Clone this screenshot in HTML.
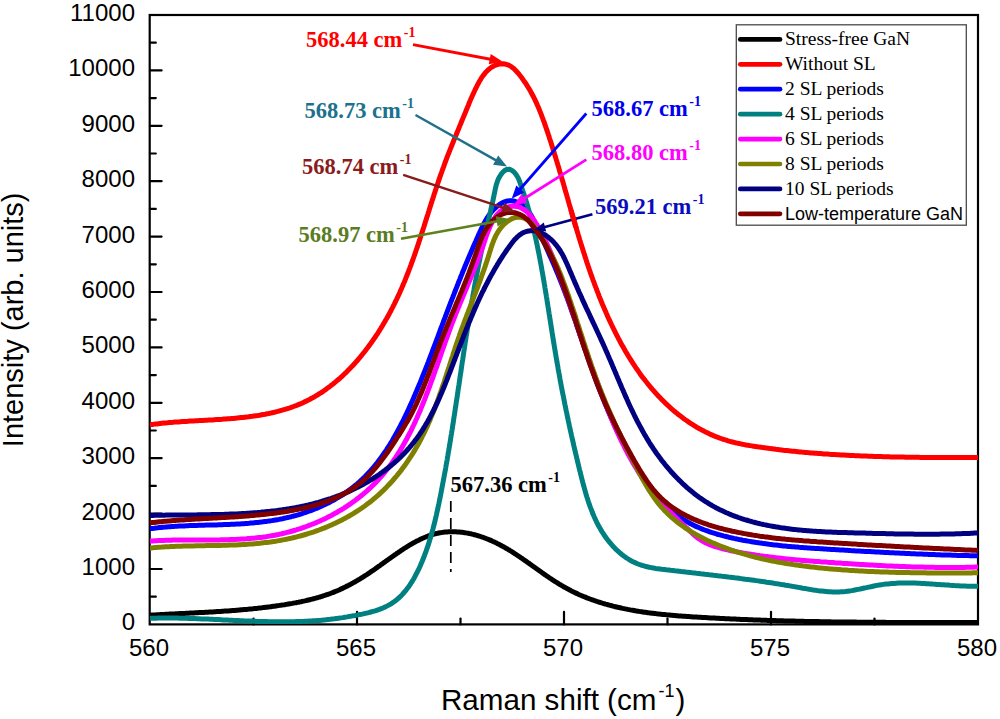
<!DOCTYPE html>
<html><head><meta charset="utf-8"><style>
html,body{margin:0;padding:0;background:#fff;}
svg{display:block;}
.tk{font-family:"Liberation Sans",sans-serif;font-size:24px;fill:#000;}
.ttl{font-family:"Liberation Sans",sans-serif;font-size:29px;fill:#000;}
.lab{font-family:"Liberation Serif",serif;font-weight:bold;font-size:22.5px;}
.sup{font-size:14px;}
.leg{font-family:"Liberation Serif",serif;font-size:19.5px;fill:#000;}
.legs{font-family:"Liberation Sans",sans-serif;font-size:18px;fill:#000;}
</style></head><body>
<svg width="1000" height="719" viewBox="0 0 1000 719">
<rect width="1000" height="719" fill="#fff"/>
<rect x="149.7" y="15.0" width="828.3" height="609.4" fill="none" stroke="#000" stroke-width="2.2"/>
<line x1="150.0" y1="596.70" x2="155.8" y2="596.70" stroke="#000" stroke-width="2.2" stroke-linecap="round"/>
<line x1="150.0" y1="569.00" x2="161.6" y2="569.00" stroke="#000" stroke-width="2.2" stroke-linecap="round"/>
<line x1="150.0" y1="541.30" x2="155.8" y2="541.30" stroke="#000" stroke-width="2.2" stroke-linecap="round"/>
<line x1="150.0" y1="513.60" x2="161.6" y2="513.60" stroke="#000" stroke-width="2.2" stroke-linecap="round"/>
<line x1="150.0" y1="485.90" x2="155.8" y2="485.90" stroke="#000" stroke-width="2.2" stroke-linecap="round"/>
<line x1="150.0" y1="458.20" x2="161.6" y2="458.20" stroke="#000" stroke-width="2.2" stroke-linecap="round"/>
<line x1="150.0" y1="430.50" x2="155.8" y2="430.50" stroke="#000" stroke-width="2.2" stroke-linecap="round"/>
<line x1="150.0" y1="402.80" x2="161.6" y2="402.80" stroke="#000" stroke-width="2.2" stroke-linecap="round"/>
<line x1="150.0" y1="375.10" x2="155.8" y2="375.10" stroke="#000" stroke-width="2.2" stroke-linecap="round"/>
<line x1="150.0" y1="347.40" x2="161.6" y2="347.40" stroke="#000" stroke-width="2.2" stroke-linecap="round"/>
<line x1="150.0" y1="319.70" x2="155.8" y2="319.70" stroke="#000" stroke-width="2.2" stroke-linecap="round"/>
<line x1="150.0" y1="292.00" x2="161.6" y2="292.00" stroke="#000" stroke-width="2.2" stroke-linecap="round"/>
<line x1="150.0" y1="264.30" x2="155.8" y2="264.30" stroke="#000" stroke-width="2.2" stroke-linecap="round"/>
<line x1="150.0" y1="236.60" x2="161.6" y2="236.60" stroke="#000" stroke-width="2.2" stroke-linecap="round"/>
<line x1="150.0" y1="208.90" x2="155.8" y2="208.90" stroke="#000" stroke-width="2.2" stroke-linecap="round"/>
<line x1="150.0" y1="181.20" x2="161.6" y2="181.20" stroke="#000" stroke-width="2.2" stroke-linecap="round"/>
<line x1="150.0" y1="153.50" x2="155.8" y2="153.50" stroke="#000" stroke-width="2.2" stroke-linecap="round"/>
<line x1="150.0" y1="125.80" x2="161.6" y2="125.80" stroke="#000" stroke-width="2.2" stroke-linecap="round"/>
<line x1="150.0" y1="98.10" x2="155.8" y2="98.10" stroke="#000" stroke-width="2.2" stroke-linecap="round"/>
<line x1="150.0" y1="70.40" x2="161.6" y2="70.40" stroke="#000" stroke-width="2.2" stroke-linecap="round"/>
<line x1="150.0" y1="42.70" x2="155.8" y2="42.70" stroke="#000" stroke-width="2.2" stroke-linecap="round"/>
<line x1="253.50" y1="624.4" x2="253.50" y2="618.6" stroke="#000" stroke-width="2.2" stroke-linecap="round"/>
<line x1="357.00" y1="624.4" x2="357.00" y2="611.8" stroke="#000" stroke-width="2.2" stroke-linecap="round"/>
<line x1="460.50" y1="624.4" x2="460.50" y2="618.6" stroke="#000" stroke-width="2.2" stroke-linecap="round"/>
<line x1="564.00" y1="624.4" x2="564.00" y2="611.8" stroke="#000" stroke-width="2.2" stroke-linecap="round"/>
<line x1="667.50" y1="624.4" x2="667.50" y2="618.6" stroke="#000" stroke-width="2.2" stroke-linecap="round"/>
<line x1="771.00" y1="624.4" x2="771.00" y2="611.8" stroke="#000" stroke-width="2.2" stroke-linecap="round"/>
<line x1="874.50" y1="624.4" x2="874.50" y2="618.6" stroke="#000" stroke-width="2.2" stroke-linecap="round"/>
<defs><clipPath id="pc"><rect x="150" y="15" width="828" height="609"/></clipPath></defs><g clip-path="url(#pc)"><path d="M135.1 616.2L136.3 616.1L137.6 616.0L138.9 615.9L140.1 615.8L141.4 615.7L142.7 615.7L144.0 615.6L145.2 615.5L146.5 615.4L147.8 615.3L149.0 615.3L150.3 615.2L151.6 615.1L152.9 615.0L154.1 615.0L155.4 614.9L156.7 614.8L157.9 614.7L159.2 614.7L160.5 614.6L161.8 614.5L163.1 614.5L164.3 614.4L165.6 614.3L166.9 614.3L168.2 614.2L169.4 614.1L170.7 614.1L172.0 614.0L173.3 613.9L174.6 613.9L175.8 613.8L177.1 613.7L178.4 613.7L179.7 613.6L181.0 613.6L182.3 613.5L183.5 613.4L184.8 613.4L186.1 613.3L187.4 613.2L188.7 613.2L189.9 613.1L191.2 613.0L192.5 613.0L193.8 612.9L195.1 612.8L196.4 612.8L197.7 612.7L198.9 612.6L200.2 612.6L201.5 612.5L202.8 612.4L204.1 612.4L205.4 612.3L206.6 612.2L207.9 612.2L209.2 612.1L210.5 612.0L211.8 611.9L213.1 611.9L214.4 611.8L215.6 611.7L216.9 611.6L218.2 611.5L219.5 611.5L220.8 611.4L222.1 611.3L223.4 611.2L224.6 611.1L225.9 611.0L227.2 610.9L228.5 610.9L229.8 610.8L231.1 610.7L232.3 610.6L233.6 610.5L234.9 610.4L236.2 610.3L237.5 610.2L238.8 610.1L240.0 610.0L241.3 609.8L242.6 609.7L243.9 609.6L245.2 609.5L246.4 609.4L247.7 609.3L249.0 609.1L250.3 609.0L251.6 608.9L252.8 608.8L254.1 608.6L255.4 608.5L256.7 608.4L258.0 608.2L259.2 608.1L260.5 607.9L261.8 607.8L263.1 607.6L264.3 607.5L265.6 607.3L266.9 607.2L268.2 607.0L269.4 606.9L270.7 606.7L272.0 606.5L273.3 606.3L274.5 606.2L275.8 606.0L277.1 605.8L278.4 605.6L279.6 605.4L280.9 605.2L282.2 605.1L283.4 604.9L284.7 604.7L286.0 604.4L287.2 604.2L288.5 604.0L289.8 603.8L291.0 603.6L292.3 603.4L293.5 603.1L294.8 602.9L296.1 602.7L297.3 602.4L298.6 602.2L299.8 601.9L301.1 601.7L302.3 601.4L303.6 601.1L304.8 600.9L306.1 600.6L307.3 600.3L308.5 600.0L309.8 599.7L311.0 599.4L312.2 599.1L313.5 598.8L314.7 598.4L315.9 598.1L317.1 597.8L318.4 597.4L319.6 597.0L320.8 596.7L322.0 596.3L323.2 595.9L324.4 595.5L325.6 595.1L326.8 594.7L328.0 594.3L329.2 593.9L330.3 593.5L331.5 593.0L332.7 592.6L333.8 592.1L335.0 591.6L336.2 591.2L337.3 590.7L338.5 590.2L339.6 589.7L340.8 589.1L341.9 588.6L343.0 588.1L344.2 587.5L345.3 587.0L346.4 586.4L347.5 585.9L348.7 585.3L349.8 584.7L350.9 584.1L352.0 583.5L353.1 582.9L354.2 582.3L355.3 581.7L356.4 581.0L357.5 580.4L358.6 579.7L359.7 579.1L360.8 578.4L361.9 577.8L362.9 577.1L364.0 576.4L365.1 575.7L366.2 575.0L367.3 574.3L368.3 573.6L369.4 572.9L370.5 572.1L371.5 571.4L372.6 570.7L373.7 569.9L374.7 569.2L375.8 568.4L376.9 567.7L377.9 566.9L379.0 566.2L380.1 565.4L381.1 564.6L382.2 563.9L383.3 563.1L384.3 562.3L385.4 561.6L386.5 560.8L387.5 560.0L388.6 559.3L389.7 558.5L390.8 557.7L391.8 557.0L392.9 556.2L394.0 555.4L395.1 554.7L396.2 553.9L397.3 553.2L398.4 552.4L399.5 551.7L400.6 550.9L401.7 550.2L402.8 549.4L403.9 548.7L405.0 548.0L406.1 547.3L407.2 546.6L408.4 545.9L409.5 545.2L410.6 544.5L411.8 543.9L412.9 543.2L414.1 542.6L415.2 542.0L416.3 541.3L417.5 540.7L418.7 540.2L419.8 539.6L421.0 539.0L422.1 538.5L423.3 538.0L424.5 537.5L425.7 537.0L426.8 536.5L428.0 536.1L429.2 535.6L430.4 535.2L431.6 534.8L432.8 534.5L434.0 534.1L435.2 533.8L436.4 533.5L437.6 533.3L438.8 533.0L440.0 532.8L441.2 532.6L442.5 532.4L443.7 532.2L444.9 532.1L446.1 532.0L447.3 531.9L448.6 531.8L449.8 531.8L451.0 531.7L452.3 531.7L453.5 531.7L454.7 531.8L456.0 531.8L457.2 531.9L458.4 532.0L459.7 532.1L460.9 532.2L462.1 532.3L463.4 532.5L464.6 532.7L465.8 532.9L467.1 533.1L468.3 533.3L469.5 533.6L470.8 533.8L472.0 534.1L473.2 534.4L474.5 534.7L475.7 535.0L476.9 535.4L478.1 535.8L479.3 536.1L480.5 536.5L481.7 536.9L483.0 537.3L484.2 537.8L485.4 538.2L486.6 538.7L487.8 539.2L488.9 539.6L490.1 540.1L491.3 540.6L492.5 541.2L493.7 541.7L494.8 542.3L496.0 542.8L497.1 543.4L498.3 544.0L499.5 544.6L500.6 545.2L501.7 545.8L502.9 546.4L504.0 547.0L505.1 547.7L506.2 548.3L507.4 549.0L508.5 549.7L509.6 550.3L510.7 551.0L511.8 551.7L512.9 552.4L514.0 553.1L515.1 553.8L516.2 554.5L517.3 555.3L518.4 556.0L519.4 556.7L520.5 557.4L521.6 558.2L522.7 558.9L523.8 559.7L524.8 560.4L525.9 561.2L527.0 561.9L528.1 562.7L529.1 563.4L530.2 564.2L531.3 565.0L532.3 565.7L533.4 566.5L534.5 567.3L535.5 568.0L536.6 568.8L537.6 569.5L538.7 570.3L539.8 571.1L540.8 571.8L541.9 572.6L543.0 573.3L544.0 574.1L545.1 574.8L546.2 575.6L547.3 576.3L548.3 577.0L549.4 577.8L550.5 578.5L551.6 579.2L552.6 579.9L553.7 580.6L554.8 581.3L555.9 582.0L557.0 582.7L558.1 583.4L559.2 584.1L560.3 584.7L561.4 585.4L562.5 586.0L563.6 586.7L564.7 587.3L565.8 587.9L566.9 588.5L568.0 589.1L569.2 589.7L570.3 590.3L571.4 590.9L572.6 591.5L573.7 592.0L574.8 592.6L576.0 593.1L577.1 593.6L578.3 594.2L579.4 594.7L580.6 595.2L581.8 595.7L582.9 596.2L584.1 596.7L585.3 597.1L586.4 597.6L587.6 598.1L588.8 598.5L590.0 599.0L591.1 599.4L592.3 599.8L593.5 600.2L594.7 600.7L595.9 601.1L597.1 601.5L598.3 601.9L599.5 602.3L600.7 602.6L601.9 603.0L603.1 603.4L604.3 603.7L605.5 604.1L606.8 604.4L608.0 604.8L609.2 605.1L610.4 605.4L611.7 605.7L612.9 606.1L614.1 606.4L615.3 606.7L616.6 607.0L617.8 607.3L619.0 607.5L620.3 607.8L621.5 608.1L622.8 608.4L624.0 608.6L625.3 608.9L626.5 609.1L627.8 609.4L629.0 609.6L630.3 609.9L631.5 610.1L632.8 610.3L634.0 610.5L635.3 610.8L636.6 611.0L637.8 611.2L639.1 611.4L640.4 611.6L641.6 611.8L642.9 612.0L644.2 612.2L645.4 612.3L646.7 612.5L648.0 612.7L649.3 612.9L650.5 613.0L651.8 613.2L653.1 613.3L654.4 613.5L655.6 613.6L656.9 613.8L658.2 613.9L659.5 614.1L660.8 614.2L662.1 614.4L663.3 614.5L664.6 614.6L665.9 614.7L667.2 614.9L668.5 615.0L669.8 615.1L671.1 615.2L672.3 615.3L673.6 615.4L674.9 615.5L676.2 615.7L677.5 615.8L678.8 615.9L680.1 616.0L681.4 616.1L682.7 616.2L684.0 616.2L685.3 616.3L686.5 616.4L687.8 616.5L689.1 616.6L690.4 616.7L691.7 616.8L693.0 616.9L694.3 616.9L695.6 617.0L696.9 617.1L698.2 617.2L699.5 617.3L700.8 617.3L702.1 617.4L703.3 617.5L704.6 617.6L705.9 617.6L707.2 617.7L708.5 617.8L709.8 617.9L711.1 617.9L712.4 618.0L713.7 618.1L714.9 618.1L716.2 618.2L717.5 618.3L718.8 618.3L720.1 618.4L721.4 618.5L722.7 618.5L724.0 618.6L725.2 618.7L726.5 618.7L727.8 618.8L729.1 618.8L730.4 618.9L731.7 619.0L733.0 619.0L734.2 619.1L735.5 619.1L736.8 619.2L738.1 619.3L739.4 619.3L740.7 619.4L742.0 619.4L743.2 619.5L744.5 619.5L745.8 619.6L747.1 619.6L748.4 619.7L749.6 619.7L750.9 619.8L752.2 619.8L753.5 619.9L754.8 619.9L756.1 620.0L757.3 620.0L758.6 620.1L759.9 620.1L761.2 620.2L762.5 620.2L763.7 620.2L765.0 620.3L766.3 620.3L767.6 620.4L768.9 620.4L770.2 620.5L771.4 620.5L772.7 620.5L774.0 620.6L775.3 620.6L776.6 620.7L777.8 620.7L779.1 620.7L780.4 620.8L781.7 620.8L782.9 620.8L784.2 620.9L785.5 620.9L786.8 620.9L788.1 621.0L789.3 621.0L790.6 621.0L791.9 621.1L793.2 621.1L794.5 621.1L795.7 621.2L797.0 621.2L798.3 621.2L799.6 621.3L800.8 621.3L802.1 621.3L803.4 621.3L804.7 621.4L806.0 621.4L807.2 621.4L808.5 621.5L809.8 621.5L811.1 621.5L812.3 621.5L813.6 621.6L814.9 621.6L816.2 621.6L817.4 621.6L818.7 621.6L820.0 621.7L821.3 621.7L822.6 621.7L823.8 621.7L825.1 621.8L826.4 621.8L827.7 621.8L828.9 621.8L830.2 621.8L831.5 621.9L832.8 621.9L834.0 621.9L835.3 621.9L836.6 621.9L837.9 621.9L839.2 622.0L840.4 622.0L841.7 622.0L843.0 622.0L844.3 622.0L845.5 622.0L846.8 622.0L848.1 622.1L849.4 622.1L850.6 622.1L851.9 622.1L853.2 622.1L854.5 622.1L855.8 622.1L857.0 622.2L858.3 622.2L859.6 622.2L860.9 622.2L862.1 622.2L863.4 622.2L864.7 622.2L866.0 622.2L867.2 622.2L868.5 622.2L869.8 622.3L871.1 622.3L872.4 622.3L873.6 622.3L874.9 622.3L876.2 622.3L877.5 622.3L878.7 622.3L880.0 622.3L881.3 622.3L882.6 622.3L883.9 622.3L885.1 622.3L886.4 622.4L887.7 622.4L889.0 622.4L890.3 622.4L891.5 622.4L892.8 622.4L894.1 622.4L895.4 622.4L896.6 622.4L897.9 622.4L899.2 622.4L900.5 622.4L901.8 622.4L903.0 622.4L904.3 622.4L905.6 622.4L906.9 622.4L908.2 622.4L909.4 622.4L910.7 622.4L912.0 622.4L913.3 622.4L914.6 622.4L915.9 622.4L917.1 622.4L918.4 622.5L919.7 622.5L921.0 622.5L922.3 622.5L923.5 622.5L924.8 622.5L926.1 622.5L927.4 622.5L928.7 622.5L930.0 622.5L931.2 622.5L932.5 622.5L933.8 622.5L935.1 622.5L936.4 622.5L937.7 622.5L938.9 622.5L940.2 622.5L941.5 622.5L942.8 622.5L944.1 622.5L945.4 622.5L946.7 622.5L947.9 622.5L949.2 622.5L950.5 622.5L951.8 622.5L953.1 622.5L954.4 622.5L955.7 622.5L957.0 622.5L958.2 622.5L959.5 622.5L960.8 622.5L962.1 622.5L963.4 622.5L964.7 622.5L966.0 622.5L967.3 622.5L968.6 622.5L969.8 622.5L971.1 622.5L972.4 622.5L973.7 622.5L975.0 622.5L976.3 622.5L977.6 622.5L978.9 622.5L980.2 622.5L981.5 622.5L982.8 622.5L984.1 622.5L985.3 622.5L986.6 622.5L987.9 622.5L989.2 622.5L990.5 622.5L991.8 622.5L993.1 622.5" stroke="#000000" stroke-width="5.0" fill="none" stroke-linejoin="round" stroke-linecap="butt"/>
<path d="M135.6 427.3L137.3 427.0L139.0 426.6L140.7 426.3L142.5 426.0L144.2 425.7L146.0 425.4L147.7 425.1L149.5 424.9L151.3 424.6L153.0 424.4L154.8 424.1L156.6 423.9L158.4 423.7L160.2 423.5L162.0 423.3L163.9 423.1L165.7 422.9L167.5 422.8L169.4 422.6L171.2 422.4L173.1 422.3L174.9 422.1L176.8 422.0L178.6 421.9L180.5 421.7L182.4 421.6L184.2 421.5L186.1 421.4L188.0 421.3L189.9 421.1L191.8 421.0L193.6 420.9L195.5 420.8L197.4 420.7L199.3 420.6L201.2 420.5L203.1 420.4L205.0 420.3L206.9 420.2L208.8 420.1L210.7 420.0L212.6 419.9L214.5 419.7L216.4 419.6L218.3 419.5L220.2 419.4L222.1 419.3L224.0 419.1L225.9 419.0L227.8 418.8L229.7 418.7L231.6 418.5L233.5 418.4L235.4 418.2L237.3 418.0L239.2 417.8L241.1 417.6L242.9 417.4L244.8 417.2L246.7 417.0L248.6 416.8L250.4 416.5L252.3 416.3L254.1 416.0L256.0 415.7L257.8 415.5L259.7 415.2L261.5 414.8L263.4 414.5L265.2 414.2L267.0 413.8L268.8 413.5L270.6 413.1L272.4 412.7L274.2 412.3L276.0 411.8L277.8 411.4L279.6 410.9L281.3 410.4L283.1 409.9L284.8 409.4L286.6 408.9L288.3 408.3L290.0 407.8L291.8 407.2L293.5 406.5L295.2 405.9L296.9 405.3L298.5 404.6L300.2 403.9L301.9 403.2L303.5 402.4L305.1 401.6L306.8 400.9L308.4 400.0L310.0 399.2L311.6 398.3L313.2 397.5L314.7 396.6L316.3 395.6L317.9 394.7L319.4 393.7L320.9 392.8L322.4 391.8L324.0 390.7L325.5 389.7L326.9 388.6L328.4 387.5L329.9 386.4L331.3 385.3L332.8 384.2L334.2 383.0L335.6 381.9L337.0 380.7L338.4 379.5L339.8 378.3L341.2 377.0L342.6 375.8L343.9 374.5L345.3 373.2L346.6 371.9L347.9 370.6L349.2 369.3L350.5 367.9L351.8 366.6L353.1 365.2L354.4 363.8L355.6 362.4L356.9 361.0L358.1 359.6L359.3 358.2L360.5 356.7L361.7 355.3L362.9 353.8L364.1 352.3L365.3 350.8L366.4 349.3L367.6 347.8L368.7 346.3L369.8 344.8L370.9 343.2L372.0 341.7L373.1 340.1L374.2 338.6L375.3 337.0L376.3 335.4L377.4 333.8L378.4 332.2L379.4 330.6L380.4 329.0L381.4 327.4L382.4 325.8L383.4 324.1L384.3 322.5L385.3 320.9L386.2 319.2L387.2 317.6L388.1 315.9L389.0 314.3L389.9 312.6L390.8 311.0L391.6 309.3L392.5 307.6L393.3 306.0L394.2 304.3L395.0 302.6L395.8 300.9L396.6 299.3L397.4 297.6L398.2 295.9L399.0 294.2L399.8 292.5L400.5 290.8L401.3 289.1L402.0 287.4L402.7 285.7L403.4 284.0L404.2 282.3L404.9 280.6L405.6 278.9L406.2 277.2L406.9 275.5L407.6 273.8L408.3 272.0L408.9 270.3L409.6 268.6L410.2 266.9L410.9 265.1L411.5 263.4L412.1 261.7L412.8 260.0L413.4 258.2L414.0 256.5L414.6 254.8L415.2 253.0L415.8 251.3L416.4 249.5L417.0 247.8L417.6 246.1L418.2 244.3L418.8 242.6L419.3 240.8L419.9 239.1L420.5 237.3L421.0 235.6L421.6 233.8L422.2 232.1L422.7 230.3L423.3 228.6L423.9 226.8L424.4 225.1L425.0 223.3L425.5 221.5L426.1 219.8L426.6 218.0L427.2 216.3L427.8 214.5L428.3 212.7L428.9 211.0L429.4 209.2L430.0 207.4L430.5 205.7L431.1 203.9L431.7 202.2L432.2 200.4L432.8 198.6L433.4 196.9L433.9 195.1L434.5 193.3L435.1 191.6L435.7 189.8L436.2 188.0L436.8 186.3L437.4 184.5L438.0 182.7L438.6 180.9L439.2 179.2L439.8 177.4L440.4 175.6L441.0 173.9L441.7 172.1L442.3 170.3L442.9 168.6L443.6 166.8L444.2 165.1L444.8 163.3L445.5 161.5L446.2 159.8L446.8 158.0L447.5 156.2L448.2 154.5L448.9 152.7L449.6 151.0L450.3 149.2L451.0 147.4L451.7 145.7L452.4 143.9L453.1 142.2L453.8 140.4L454.5 138.7L455.2 137.0L456.0 135.2L456.7 133.5L457.4 131.8L458.1 130.1L458.8 128.3L459.5 126.6L460.2 124.9L460.9 123.2L461.6 121.5L462.3 119.8L463.0 118.1L463.7 116.5L464.4 114.8L465.1 113.1L465.8 111.5L466.4 109.8L467.1 108.2L467.8 106.5L468.5 104.9L469.1 103.2L469.8 101.6L470.5 99.9L471.2 98.3L472.0 96.6L472.7 94.9L473.5 93.2L474.3 91.5L475.1 89.8L475.9 88.1L476.8 86.3L477.7 84.5L478.6 82.8L479.6 81.0L480.7 79.3L481.7 77.6L482.9 75.9L484.1 74.4L485.3 72.8L486.6 71.4L488.0 70.0L489.4 68.8L490.9 67.7L492.5 66.7L494.1 65.8L495.8 65.1L497.6 64.5L499.3 64.1L501.1 63.9L502.8 63.8L504.5 64.0L506.2 64.3L507.8 64.8L509.4 65.6L510.9 66.4L512.3 67.5L513.8 68.6L515.1 69.9L516.4 71.3L517.7 72.7L519.0 74.2L520.2 75.7L521.4 77.2L522.5 78.8L523.6 80.4L524.7 81.9L525.8 83.5L526.8 85.1L527.8 86.7L528.8 88.3L529.8 90.0L530.7 91.6L531.6 93.3L532.5 94.9L533.3 96.6L534.2 98.2L535.0 99.9L535.8 101.6L536.6 103.3L537.3 105.0L538.1 106.7L538.8 108.4L539.5 110.2L540.2 111.9L540.9 113.6L541.6 115.4L542.2 117.1L542.9 118.8L543.5 120.6L544.2 122.3L544.8 124.1L545.4 125.9L546.0 127.6L546.6 129.4L547.2 131.1L547.8 132.9L548.4 134.7L549.0 136.4L549.5 138.2L550.1 140.0L550.7 141.7L551.3 143.5L551.8 145.3L552.4 147.1L552.9 148.8L553.5 150.6L554.0 152.4L554.6 154.2L555.1 155.9L555.7 157.7L556.2 159.5L556.8 161.3L557.3 163.1L557.8 164.8L558.4 166.6L558.9 168.4L559.4 170.2L559.9 172.0L560.5 173.7L561.0 175.5L561.5 177.3L562.0 179.1L562.6 180.9L563.1 182.7L563.6 184.4L564.1 186.2L564.6 188.0L565.1 189.8L565.6 191.6L566.2 193.4L566.7 195.2L567.2 196.9L567.7 198.7L568.2 200.5L568.7 202.3L569.2 204.1L569.7 205.9L570.3 207.6L570.8 209.4L571.3 211.2L571.8 213.0L572.3 214.8L572.8 216.6L573.4 218.3L573.9 220.1L574.4 221.9L574.9 223.7L575.4 225.5L576.0 227.2L576.5 229.0L577.0 230.8L577.6 232.6L578.1 234.4L578.6 236.1L579.2 237.9L579.7 239.7L580.3 241.5L580.8 243.2L581.4 245.0L581.9 246.8L582.5 248.5L583.0 250.3L583.6 252.1L584.2 253.8L584.7 255.6L585.3 257.4L585.9 259.1L586.4 260.9L587.0 262.7L587.6 264.4L588.2 266.2L588.8 267.9L589.4 269.7L590.0 271.4L590.6 273.2L591.2 275.0L591.9 276.7L592.5 278.5L593.1 280.2L593.8 281.9L594.4 283.7L595.0 285.4L595.7 287.2L596.4 288.9L597.0 290.6L597.7 292.4L598.4 294.1L599.0 295.8L599.7 297.6L600.4 299.3L601.1 301.0L601.8 302.7L602.5 304.5L603.3 306.2L604.0 307.9L604.7 309.6L605.5 311.3L606.2 313.0L607.0 314.8L607.7 316.5L608.5 318.2L609.3 319.9L610.1 321.6L610.9 323.3L611.7 325.0L612.5 326.6L613.3 328.3L614.1 330.0L615.0 331.7L615.8 333.4L616.6 335.0L617.5 336.7L618.4 338.4L619.3 340.0L620.1 341.7L621.0 343.3L621.9 345.0L622.9 346.6L623.8 348.2L624.7 349.8L625.6 351.5L626.6 353.1L627.6 354.7L628.5 356.3L629.5 357.9L630.5 359.5L631.5 361.0L632.5 362.6L633.5 364.2L634.5 365.7L635.6 367.3L636.6 368.8L637.7 370.3L638.8 371.9L639.8 373.4L640.9 374.9L642.0 376.4L643.1 377.9L644.3 379.3L645.4 380.8L646.6 382.3L647.7 383.7L648.9 385.2L650.1 386.6L651.2 388.0L652.4 389.4L653.7 390.8L654.9 392.2L656.1 393.6L657.4 394.9L658.6 396.3L659.9 397.6L661.2 398.9L662.5 400.2L663.8 401.5L665.1 402.8L666.5 404.1L667.8 405.4L669.2 406.6L670.5 407.9L671.9 409.1L673.3 410.3L674.7 411.5L676.1 412.7L677.6 413.8L679.0 415.0L680.5 416.1L682.0 417.2L683.5 418.4L685.0 419.5L686.5 420.5L688.0 421.6L689.5 422.6L691.1 423.7L692.7 424.7L694.2 425.6L695.8 426.6L697.4 427.6L699.0 428.5L700.7 429.4L702.3 430.3L703.9 431.1L705.6 432.0L707.3 432.8L708.9 433.6L710.6 434.4L712.3 435.1L714.0 435.9L715.8 436.6L717.5 437.2L719.2 437.9L721.0 438.5L722.7 439.1L724.5 439.7L726.3 440.2L728.0 440.8L729.8 441.3L731.6 441.8L733.4 442.2L735.2 442.7L737.1 443.1L738.9 443.5L740.7 443.9L742.5 444.3L744.4 444.6L746.2 445.0L748.0 445.3L749.9 445.6L751.7 445.9L753.6 446.2L755.4 446.5L757.3 446.8L759.2 447.1L761.0 447.3L762.9 447.6L764.7 447.8L766.6 448.1L768.4 448.3L770.3 448.6L772.1 448.8L774.0 449.0L775.8 449.3L777.7 449.5L779.5 449.7L781.4 449.9L783.2 450.2L785.1 450.4L786.9 450.6L788.8 450.8L790.6 451.0L792.5 451.2L794.3 451.3L796.2 451.5L798.0 451.7L799.9 451.9L801.7 452.1L803.6 452.2L805.4 452.4L807.3 452.6L809.1 452.7L811.0 452.9L812.8 453.0L814.7 453.2L816.5 453.3L818.4 453.5L820.2 453.6L822.1 453.7L823.9 453.9L825.8 454.0L827.6 454.1L829.5 454.3L831.3 454.4L833.2 454.5L835.0 454.6L836.9 454.7L838.7 454.8L840.6 454.9L842.4 455.0L844.3 455.1L846.1 455.2L848.0 455.3L849.8 455.4L851.7 455.5L853.5 455.6L855.4 455.7L857.2 455.8L859.1 455.8L860.9 455.9L862.8 456.0L864.7 456.1L866.5 456.1L868.4 456.2L870.2 456.3L872.1 456.3L873.9 456.4L875.8 456.5L877.6 456.5L879.5 456.6L881.3 456.6L883.2 456.7L885.1 456.7L886.9 456.8L888.8 456.8L890.6 456.9L892.5 456.9L894.4 456.9L896.2 457.0L898.1 457.0L899.9 457.1L901.8 457.1L903.7 457.1L905.5 457.2L907.4 457.2L909.3 457.2L911.1 457.2L913.0 457.3L914.9 457.3L916.7 457.3L918.6 457.3L920.4 457.4L922.3 457.4L924.2 457.4L926.0 457.4L927.9 457.4L929.8 457.4L931.6 457.5L933.5 457.5L935.4 457.5L937.2 457.5L939.1 457.5L941.0 457.5L942.8 457.5L944.7 457.5L946.5 457.5L948.4 457.5L950.3 457.5L952.1 457.5L954.0 457.5L955.9 457.5L957.7 457.5L959.6 457.5L961.4 457.5L963.3 457.5L965.2 457.5L967.0 457.5L968.9 457.5L970.7 457.5L972.6 457.5L974.5 457.5L976.3 457.5L978.2 457.5L980.0 457.5L981.9 457.5L983.7 457.5L985.6 457.5L987.4 457.4L989.3 457.4L991.1 457.4L993.0 457.4" stroke="#ff0000" stroke-width="5.0" fill="none" stroke-linejoin="round" stroke-linecap="butt"/>
<path d="M135.2 531.2L136.9 530.9L138.6 530.5L140.3 530.2L142.1 529.9L143.8 529.6L145.5 529.3L147.3 529.1L149.0 528.8L150.8 528.6L152.5 528.4L154.3 528.2L156.0 527.9L157.8 527.8L159.6 527.6L161.3 527.4L163.1 527.2L164.8 527.1L166.6 526.9L168.4 526.8L170.2 526.7L171.9 526.5L173.7 526.4L175.5 526.3L177.3 526.2L179.1 526.1L180.8 526.0L182.6 525.9L184.4 525.9L186.2 525.8L188.0 525.7L189.8 525.6L191.6 525.6L193.4 525.5L195.1 525.5L196.9 525.4L198.7 525.3L200.5 525.3L202.3 525.2L204.1 525.2L205.9 525.1L207.7 525.1L209.5 525.1L211.3 525.0L213.1 525.0L214.9 524.9L216.7 524.9L218.5 524.8L220.3 524.7L222.1 524.7L223.9 524.6L225.7 524.6L227.5 524.5L229.3 524.4L231.1 524.3L232.9 524.3L234.7 524.2L236.4 524.1L238.2 524.0L240.0 523.9L241.8 523.8L243.6 523.7L245.4 523.5L247.2 523.4L249.0 523.3L250.7 523.1L252.5 523.0L254.3 522.8L256.1 522.6L257.9 522.5L259.6 522.3L261.4 522.1L263.2 521.8L265.0 521.6L266.7 521.4L268.5 521.1L270.2 520.9L272.0 520.6L273.8 520.3L275.5 520.0L277.3 519.7L279.0 519.4L280.8 519.0L282.5 518.7L284.3 518.3L286.0 517.9L287.7 517.5L289.5 517.1L291.2 516.7L292.9 516.2L294.6 515.8L296.4 515.3L298.1 514.8L299.8 514.3L301.5 513.8L303.2 513.2L304.8 512.7L306.5 512.1L308.2 511.5L309.9 510.9L311.5 510.3L313.2 509.7L314.8 509.0L316.5 508.4L318.1 507.7L319.7 507.0L321.3 506.3L322.9 505.5L324.5 504.8L326.1 504.0L327.7 503.3L329.2 502.5L330.8 501.6L332.4 500.8L333.9 500.0L335.4 499.1L336.9 498.2L338.4 497.3L339.9 496.4L341.4 495.5L342.9 494.6L344.3 493.6L345.8 492.6L347.2 491.6L348.6 490.6L350.0 489.6L351.4 488.5L352.8 487.4L354.2 486.3L355.5 485.2L356.9 484.1L358.2 483.0L359.5 481.8L360.8 480.6L362.1 479.4L363.3 478.2L364.6 477.0L365.8 475.8L367.0 474.5L368.2 473.2L369.4 471.9L370.6 470.6L371.8 469.3L372.9 468.0L374.1 466.6L375.2 465.2L376.3 463.8L377.4 462.5L378.5 461.0L379.6 459.6L380.6 458.2L381.7 456.7L382.7 455.3L383.7 453.8L384.8 452.3L385.8 450.8L386.8 449.3L387.7 447.8L388.7 446.3L389.7 444.8L390.6 443.3L391.6 441.7L392.5 440.2L393.4 438.6L394.3 437.0L395.2 435.4L396.1 433.9L397.0 432.3L397.8 430.7L398.7 429.1L399.6 427.5L400.4 425.8L401.2 424.2L402.1 422.6L402.9 421.0L403.7 419.4L404.5 417.7L405.3 416.1L406.1 414.4L406.9 412.8L407.6 411.2L408.4 409.5L409.2 407.9L409.9 406.2L410.7 404.6L411.4 402.9L412.2 401.3L412.9 399.6L413.6 398.0L414.3 396.3L415.0 394.7L415.7 393.0L416.4 391.4L417.1 389.7L417.8 388.1L418.5 386.5L419.2 384.8L419.9 383.2L420.6 381.5L421.2 379.9L421.9 378.3L422.5 376.6L423.2 375.0L423.9 373.3L424.5 371.7L425.2 370.1L425.8 368.4L426.4 366.8L427.1 365.1L427.7 363.5L428.4 361.9L429.0 360.2L429.6 358.6L430.2 356.9L430.9 355.3L431.5 353.7L432.1 352.0L432.7 350.4L433.3 348.7L434.0 347.1L434.6 345.4L435.2 343.8L435.8 342.2L436.4 340.5L437.0 338.9L437.7 337.2L438.3 335.6L438.9 333.9L439.5 332.3L440.1 330.6L440.7 329.0L441.3 327.3L442.0 325.7L442.6 324.0L443.2 322.4L443.8 320.7L444.4 319.1L445.1 317.4L445.7 315.7L446.3 314.1L446.9 312.4L447.6 310.8L448.2 309.1L448.8 307.4L449.5 305.8L450.1 304.1L450.7 302.4L451.4 300.8L452.0 299.1L452.7 297.4L453.3 295.8L454.0 294.1L454.6 292.4L455.3 290.8L455.9 289.1L456.6 287.4L457.2 285.8L457.9 284.1L458.5 282.4L459.2 280.8L459.9 279.1L460.5 277.5L461.2 275.8L461.9 274.1L462.5 272.5L463.2 270.8L463.9 269.2L464.6 267.5L465.2 265.8L465.9 264.2L466.6 262.5L467.3 260.9L468.0 259.2L468.7 257.6L469.4 255.9L470.1 254.3L470.8 252.7L471.5 251.0L472.2 249.4L472.9 247.7L473.6 246.1L474.3 244.5L475.0 242.9L475.8 241.2L476.5 239.6L477.2 238.0L477.9 236.4L478.6 234.7L479.4 233.1L480.1 231.5L480.9 229.9L481.6 228.3L482.4 226.7L483.1 225.1L483.9 223.6L484.8 222.0L485.6 220.5L486.5 219.0L487.5 217.5L488.4 216.0L489.4 214.6L490.5 213.2L491.6 211.8L492.8 210.4L494.1 209.1L495.4 207.9L496.8 206.6L498.2 205.5L499.8 204.4L501.3 203.4L502.9 202.6L504.5 201.9L506.2 201.3L507.9 200.9L509.6 200.7L511.3 200.7L513.0 200.9L514.7 201.3L516.4 201.9L518.1 202.6L519.7 203.5L521.2 204.4L522.7 205.5L524.0 206.6L525.3 207.8L526.6 209.1L527.7 210.5L528.8 211.9L529.8 213.4L530.8 214.9L531.7 216.4L532.6 218.0L533.4 219.6L534.2 221.2L535.0 222.9L535.8 224.5L536.5 226.2L537.3 227.9L538.1 229.5L538.8 231.2L539.6 232.8L540.3 234.4L541.1 236.1L541.8 237.7L542.5 239.4L543.3 241.0L544.0 242.6L544.8 244.2L545.5 245.9L546.2 247.5L547.0 249.1L547.7 250.7L548.4 252.3L549.1 253.9L549.8 255.6L550.6 257.2L551.3 258.8L552.0 260.4L552.7 262.0L553.4 263.6L554.1 265.2L554.8 266.9L555.5 268.5L556.1 270.1L556.8 271.7L557.5 273.4L558.2 275.0L558.8 276.6L559.5 278.3L560.2 279.9L560.8 281.5L561.5 283.2L562.1 284.8L562.8 286.5L563.4 288.1L564.0 289.8L564.7 291.5L565.3 293.1L565.9 294.8L566.5 296.5L567.2 298.1L567.8 299.8L568.4 301.5L569.0 303.2L569.6 304.8L570.2 306.5L570.8 308.2L571.4 309.9L572.0 311.6L572.6 313.3L573.2 315.0L573.8 316.6L574.4 318.3L575.0 320.0L575.6 321.7L576.2 323.4L576.7 325.1L577.3 326.8L577.9 328.5L578.5 330.2L579.1 331.9L579.7 333.6L580.2 335.3L580.8 336.9L581.4 338.6L582.0 340.3L582.6 342.0L583.1 343.7L583.7 345.4L584.3 347.1L584.9 348.8L585.5 350.5L586.1 352.1L586.6 353.8L587.2 355.5L587.8 357.2L588.4 358.9L589.0 360.6L589.6 362.2L590.2 363.9L590.8 365.6L591.4 367.3L592.0 368.9L592.6 370.6L593.2 372.3L593.8 373.9L594.4 375.6L595.0 377.3L595.6 378.9L596.2 380.6L596.9 382.3L597.5 383.9L598.1 385.6L598.7 387.2L599.4 388.9L600.0 390.5L600.6 392.2L601.3 393.8L601.9 395.5L602.6 397.1L603.2 398.8L603.9 400.4L604.6 402.1L605.2 403.7L605.9 405.3L606.6 407.0L607.3 408.6L607.9 410.2L608.6 411.9L609.3 413.5L610.0 415.1L610.7 416.8L611.5 418.4L612.2 420.0L612.9 421.6L613.6 423.2L614.4 424.8L615.1 426.5L615.8 428.1L616.6 429.7L617.4 431.3L618.1 432.9L618.9 434.5L619.7 436.1L620.5 437.7L621.3 439.3L622.1 440.9L622.9 442.5L623.7 444.1L624.5 445.7L625.3 447.2L626.2 448.8L627.0 450.4L627.9 452.0L628.7 453.6L629.6 455.1L630.5 456.7L631.4 458.3L632.2 459.8L633.1 461.4L634.1 463.0L635.0 464.5L635.9 466.1L636.8 467.6L637.8 469.2L638.7 470.7L639.7 472.2L640.7 473.8L641.7 475.3L642.7 476.8L643.7 478.3L644.7 479.8L645.7 481.3L646.8 482.8L647.8 484.2L648.9 485.7L650.0 487.1L651.0 488.6L652.1 490.0L653.3 491.4L654.4 492.8L655.5 494.2L656.7 495.5L657.8 496.9L659.0 498.2L660.2 499.5L661.4 500.8L662.6 502.1L663.9 503.4L665.1 504.6L666.4 505.9L667.6 507.1L668.9 508.3L670.2 509.5L671.6 510.6L672.9 511.7L674.2 512.8L675.6 513.9L677.0 515.0L678.4 516.0L679.8 517.1L681.3 518.1L682.7 519.0L684.2 520.0L685.7 520.9L687.2 521.8L688.7 522.6L690.2 523.5L691.8 524.3L693.3 525.1L694.9 525.9L696.5 526.6L698.1 527.3L699.8 528.0L701.4 528.7L703.0 529.4L704.7 530.0L706.4 530.6L708.0 531.2L709.7 531.8L711.4 532.4L713.1 532.9L714.8 533.4L716.6 534.0L718.3 534.5L720.0 534.9L721.7 535.4L723.5 535.9L725.2 536.3L727.0 536.7L728.7 537.2L730.5 537.6L732.2 538.0L734.0 538.4L735.7 538.7L737.5 539.1L739.2 539.5L741.0 539.8L742.7 540.2L744.5 540.5L746.2 540.8L748.0 541.1L749.8 541.4L751.5 541.7L753.3 542.0L755.0 542.3L756.8 542.6L758.6 542.8L760.3 543.1L762.1 543.3L763.8 543.6L765.6 543.8L767.4 544.0L769.1 544.3L770.9 544.5L772.7 544.7L774.4 544.9L776.2 545.1L778.0 545.3L779.7 545.5L781.5 545.7L783.3 545.9L785.0 546.0L786.8 546.2L788.6 546.4L790.3 546.5L792.1 546.7L793.9 546.8L795.6 547.0L797.4 547.1L799.2 547.3L801.0 547.4L802.7 547.5L804.5 547.7L806.3 547.8L808.0 547.9L809.8 548.0L811.6 548.2L813.4 548.3L815.1 548.4L816.9 548.5L818.7 548.6L820.5 548.7L822.2 548.8L824.0 549.0L825.8 549.1L827.6 549.2L829.3 549.3L831.1 549.4L832.9 549.5L834.7 549.6L836.4 549.7L838.2 549.8L840.0 549.9L841.8 550.0L843.5 550.1L845.3 550.2L847.1 550.3L848.9 550.4L850.7 550.6L852.4 550.7L854.2 550.8L856.0 550.9L857.8 551.0L859.5 551.1L861.3 551.2L863.1 551.3L864.9 551.4L866.7 551.5L868.4 551.6L870.2 551.6L872.0 551.7L873.8 551.8L875.5 551.9L877.3 552.0L879.1 552.1L880.9 552.2L882.7 552.3L884.4 552.4L886.2 552.5L888.0 552.6L889.8 552.7L891.6 552.8L893.3 552.8L895.1 552.9L896.9 553.0L898.7 553.1L900.5 553.2L902.2 553.3L904.0 553.3L905.8 553.4L907.6 553.5L909.4 553.6L911.1 553.7L912.9 553.7L914.7 553.8L916.5 553.9L918.3 554.0L920.0 554.0L921.8 554.1L923.6 554.2L925.4 554.3L927.2 554.3L928.9 554.4L930.7 554.5L932.5 554.5L934.3 554.6L936.1 554.7L937.8 554.7L939.6 554.8L941.4 554.9L943.2 554.9L945.0 555.0L946.7 555.0L948.5 555.1L950.3 555.1L952.1 555.2L953.9 555.3L955.6 555.3L957.4 555.4L959.2 555.4L961.0 555.5L962.8 555.5L964.5 555.6L966.3 555.6L968.1 555.6L969.9 555.7L971.7 555.7L973.4 555.8L975.2 555.8L977.0 555.8L978.8 555.9L980.5 555.9L982.3 555.9L984.1 556.0L985.9 556.0L987.7 556.0L989.4 556.1L991.2 556.1L993.0 556.1" stroke="#0000ff" stroke-width="5.0" fill="none" stroke-linejoin="round" stroke-linecap="butt"/>
<path d="M135.1 619.1L137.2 619.0L139.3 618.8L141.5 618.7L143.6 618.6L145.7 618.5L147.8 618.4L149.9 618.3L152.1 618.3L154.2 618.2L156.3 618.2L158.5 618.1L160.6 618.1L162.8 618.1L164.9 618.1L167.0 618.1L169.2 618.1L171.3 618.1L173.5 618.1L175.6 618.1L177.8 618.1L179.9 618.2L182.1 618.2L184.2 618.3L186.4 618.3L188.6 618.4L190.7 618.5L192.9 618.5L195.0 618.6L197.2 618.7L199.3 618.8L201.5 618.9L203.7 619.0L205.8 619.0L208.0 619.1L210.2 619.2L212.3 619.3L214.5 619.4L216.7 619.5L218.8 619.6L221.0 619.7L223.2 619.9L225.3 620.0L227.5 620.1L229.6 620.2L231.8 620.3L234.0 620.4L236.1 620.5L238.3 620.6L240.5 620.7L242.6 620.8L244.8 620.9L247.0 621.0L249.1 621.0L251.3 621.1L253.4 621.2L255.6 621.3L257.8 621.4L259.9 621.4L262.1 621.5L264.2 621.5L266.4 621.6L268.5 621.7L270.7 621.7L272.8 621.7L275.0 621.8L277.1 621.8L279.3 621.8L281.4 621.8L283.6 621.8L285.7 621.8L287.9 621.8L290.0 621.8L292.1 621.7L294.3 621.7L296.4 621.6L298.5 621.6L300.7 621.5L302.8 621.4L304.9 621.3L307.0 621.2L309.2 621.1L311.3 621.0L313.4 620.8L315.5 620.7L317.6 620.5L319.7 620.4L321.8 620.2L323.9 620.0L326.0 619.8L328.1 619.5L330.2 619.3L332.3 619.0L334.4 618.8L336.5 618.5L338.6 618.2L340.7 617.9L342.8 617.6L344.9 617.2L347.0 616.9L349.2 616.5L351.3 616.1L353.4 615.7L355.6 615.4L357.8 614.9L360.0 614.5L362.2 614.1L364.4 613.6L366.5 613.1L368.7 612.6L370.9 612.0L373.0 611.4L375.2 610.8L377.3 610.1L379.3 609.4L381.4 608.6L383.4 607.8L385.4 606.9L387.3 605.9L389.2 604.9L391.0 603.8L392.7 602.7L394.4 601.5L396.1 600.2L397.7 598.9L399.3 597.5L400.8 596.1L402.2 594.6L403.6 593.0L405.0 591.4L406.3 589.8L407.6 588.1L408.9 586.4L410.1 584.6L411.2 582.8L412.4 581.0L413.5 579.2L414.5 577.3L415.5 575.4L416.5 573.5L417.5 571.6L418.5 569.6L419.4 567.7L420.3 565.7L421.1 563.7L422.0 561.7L422.8 559.7L423.6 557.7L424.4 555.7L425.1 553.7L425.9 551.7L426.6 549.7L427.3 547.6L428.0 545.6L428.7 543.6L429.3 541.5L429.9 539.5L430.6 537.4L431.2 535.3L431.7 533.3L432.3 531.2L432.9 529.1L433.4 527.1L434.0 525.0L434.5 522.9L435.0 520.8L435.5 518.7L436.0 516.6L436.5 514.5L436.9 512.4L437.4 510.3L437.9 508.2L438.3 506.1L438.8 504.0L439.2 501.9L439.6 499.8L440.1 497.7L440.5 495.6L440.9 493.5L441.3 491.4L441.7 489.2L442.1 487.1L442.5 485.0L442.9 482.9L443.3 480.8L443.7 478.7L444.1 476.6L444.5 474.4L444.9 472.3L445.3 470.2L445.7 468.1L446.0 466.0L446.4 463.9L446.8 461.7L447.2 459.6L447.5 457.5L447.9 455.4L448.2 453.3L448.6 451.1L449.0 449.0L449.3 446.9L449.7 444.8L450.0 442.6L450.4 440.5L450.7 438.4L451.0 436.3L451.4 434.1L451.7 432.0L452.1 429.9L452.4 427.8L452.7 425.6L453.1 423.5L453.4 421.4L453.7 419.3L454.0 417.1L454.4 415.0L454.7 412.9L455.0 410.8L455.3 408.6L455.7 406.5L456.0 404.4L456.3 402.2L456.6 400.1L457.0 398.0L457.3 395.9L457.6 393.7L457.9 391.6L458.2 389.5L458.5 387.4L458.9 385.2L459.2 383.1L459.5 381.0L459.8 378.8L460.1 376.7L460.4 374.6L460.8 372.5L461.1 370.3L461.4 368.2L461.7 366.1L462.0 364.0L462.3 361.8L462.7 359.7L463.0 357.6L463.3 355.4L463.6 353.3L463.9 351.2L464.3 349.1L464.6 346.9L464.9 344.8L465.2 342.7L465.6 340.6L465.9 338.4L466.2 336.3L466.6 334.2L466.9 332.1L467.2 329.9L467.6 327.8L467.9 325.7L468.2 323.6L468.6 321.5L468.9 319.3L469.3 317.2L469.6 315.1L470.0 313.0L470.3 310.9L470.7 308.7L471.0 306.6L471.4 304.5L471.7 302.4L472.1 300.3L472.5 298.2L472.8 296.0L473.2 293.9L473.6 291.8L474.0 289.7L474.3 287.6L474.7 285.5L475.1 283.4L475.5 281.3L475.9 279.1L476.3 277.0L476.7 274.9L477.1 272.8L477.5 270.7L477.9 268.6L478.3 266.5L478.7 264.4L479.1 262.3L479.6 260.2L480.0 258.1L480.4 256.0L480.9 253.9L481.3 251.8L481.8 249.7L482.2 247.6L482.7 245.5L483.1 243.4L483.6 241.3L484.0 239.2L484.5 237.1L485.0 235.0L485.5 232.9L486.0 230.8L486.4 228.7L486.9 226.6L487.4 224.6L487.9 222.5L488.4 220.4L488.9 218.3L489.4 216.2L489.9 214.1L490.4 212.0L490.8 209.9L491.3 207.8L491.8 205.7L492.2 203.6L492.7 201.5L493.2 199.4L493.6 197.3L494.0 195.2L494.5 193.1L494.9 191.0L495.3 188.9L495.8 186.8L496.3 184.7L497.0 182.6L497.7 180.5L498.6 178.5L499.7 176.5L500.9 174.6L502.3 172.8L503.8 171.3L505.4 170.1L507.1 169.4L508.8 169.2L510.5 169.7L512.2 170.6L513.9 171.9L515.4 173.6L516.7 175.5L517.9 177.5L518.9 179.6L519.7 181.7L520.4 183.8L521.1 185.9L521.8 188.0L522.5 190.0L523.2 192.0L523.9 194.0L524.5 196.0L525.2 198.0L525.8 200.0L526.4 202.1L527.1 204.1L527.7 206.1L528.2 208.2L528.8 210.2L529.4 212.3L529.9 214.3L530.5 216.4L531.0 218.5L531.6 220.5L532.1 222.6L532.6 224.7L533.1 226.8L533.6 228.9L534.1 231.0L534.6 233.1L535.0 235.2L535.5 237.3L535.9 239.4L536.4 241.5L536.8 243.6L537.3 245.7L537.7 247.8L538.1 249.9L538.6 252.1L539.0 254.2L539.4 256.3L539.8 258.4L540.2 260.5L540.6 262.6L541.0 264.8L541.4 266.9L541.7 269.0L542.1 271.1L542.5 273.2L542.9 275.4L543.2 277.5L543.6 279.6L544.0 281.7L544.3 283.9L544.7 286.0L545.0 288.1L545.4 290.2L545.7 292.3L546.1 294.5L546.4 296.6L546.8 298.7L547.1 300.8L547.4 303.0L547.8 305.1L548.1 307.2L548.5 309.3L548.8 311.5L549.1 313.6L549.5 315.7L549.8 317.8L550.1 320.0L550.5 322.1L550.8 324.2L551.1 326.3L551.5 328.4L551.8 330.6L552.1 332.7L552.5 334.8L552.8 336.9L553.1 339.0L553.5 341.2L553.8 343.3L554.2 345.4L554.5 347.5L554.9 349.6L555.2 351.8L555.6 353.9L555.9 356.0L556.3 358.1L556.7 360.2L557.0 362.3L557.4 364.4L557.8 366.5L558.1 368.7L558.5 370.8L558.9 372.9L559.3 375.0L559.7 377.1L560.0 379.2L560.4 381.3L560.8 383.4L561.2 385.5L561.6 387.6L562.0 389.7L562.4 391.8L562.8 393.9L563.3 396.0L563.7 398.1L564.1 400.2L564.5 402.3L564.9 404.5L565.4 406.6L565.8 408.7L566.2 410.8L566.7 412.9L567.1 415.0L567.5 417.1L568.0 419.2L568.4 421.3L568.9 423.4L569.3 425.5L569.8 427.6L570.2 429.7L570.7 431.8L571.2 433.9L571.6 436.0L572.1 438.1L572.6 440.2L573.1 442.3L573.5 444.4L574.0 446.5L574.5 448.6L575.0 450.7L575.5 452.8L576.0 454.9L576.5 457.0L577.0 459.1L577.5 461.2L578.0 463.3L578.5 465.4L579.0 467.5L579.5 469.6L580.1 471.7L580.6 473.8L581.1 475.9L581.6 478.0L582.2 480.1L582.7 482.2L583.3 484.3L583.8 486.3L584.4 488.4L585.0 490.5L585.6 492.6L586.2 494.7L586.8 496.7L587.5 498.8L588.1 500.8L588.8 502.9L589.5 504.9L590.2 506.9L591.0 508.9L591.8 510.9L592.5 512.9L593.4 514.9L594.2 516.8L595.1 518.8L596.0 520.7L596.9 522.6L597.9 524.5L598.9 526.4L600.0 528.2L601.0 530.1L602.1 531.9L603.3 533.7L604.5 535.5L605.7 537.2L607.0 539.0L608.3 540.7L609.7 542.4L611.1 544.0L612.5 545.7L614.0 547.3L615.6 548.9L617.1 550.4L618.8 551.9L620.4 553.3L622.1 554.7L623.8 556.0L625.6 557.3L627.4 558.5L629.3 559.7L631.1 560.7L633.0 561.7L635.0 562.6L636.9 563.5L638.9 564.3L640.9 565.0L643.0 565.6L645.0 566.2L647.1 566.7L649.2 567.2L651.3 567.6L653.4 568.0L655.5 568.4L657.7 568.7L659.8 569.0L662.0 569.3L664.1 569.5L666.3 569.8L668.4 570.0L670.6 570.3L672.8 570.5L674.9 570.8L677.1 571.0L679.2 571.2L681.4 571.5L683.5 571.7L685.7 572.0L687.8 572.2L690.0 572.4L692.1 572.7L694.3 572.9L696.4 573.2L698.5 573.4L700.7 573.7L702.8 573.9L705.0 574.2L707.1 574.4L709.2 574.7L711.4 574.9L713.5 575.2L715.6 575.4L717.8 575.7L719.9 575.9L722.0 576.2L724.1 576.4L726.3 576.7L728.4 577.0L730.5 577.2L732.6 577.5L734.8 577.8L736.9 578.0L739.0 578.3L741.1 578.6L743.3 578.9L745.4 579.2L747.5 579.4L749.6 579.7L751.7 580.0L753.9 580.3L756.0 580.6L758.1 580.9L760.2 581.2L762.3 581.5L764.5 581.8L766.6 582.2L768.7 582.5L770.8 582.8L773.0 583.1L775.1 583.5L777.2 583.8L779.3 584.1L781.4 584.5L783.6 584.8L785.7 585.2L787.8 585.5L789.9 585.9L792.1 586.3L794.2 586.6L796.3 587.0L798.4 587.4L800.6 587.8L802.7 588.2L804.8 588.5L807.0 588.9L809.1 589.3L811.2 589.6L813.4 590.0L815.5 590.3L817.6 590.6L819.8 590.9L821.9 591.1L824.0 591.3L826.2 591.5L828.3 591.7L830.4 591.8L832.5 591.9L834.7 592.0L836.8 592.0L838.9 591.9L841.1 591.8L843.2 591.7L845.3 591.5L847.4 591.2L849.6 590.9L851.7 590.6L853.8 590.2L855.9 589.8L858.0 589.4L860.2 589.0L862.3 588.5L864.4 588.0L866.5 587.6L868.7 587.1L870.8 586.7L872.9 586.2L875.0 585.8L877.2 585.4L879.3 585.0L881.4 584.7L883.5 584.4L885.7 584.1L887.8 583.9L889.9 583.7L892.1 583.5L894.2 583.4L896.3 583.2L898.5 583.1L900.6 583.1L902.8 583.0L904.9 583.0L907.0 583.0L909.2 583.0L911.3 583.0L913.5 583.1L915.6 583.1L917.8 583.2L919.9 583.3L922.1 583.4L924.2 583.5L926.4 583.7L928.5 583.8L930.7 583.9L932.8 584.1L935.0 584.2L937.1 584.4L939.3 584.5L941.4 584.7L943.6 584.8L945.7 585.0L947.9 585.1L950.0 585.3L952.2 585.4L954.3 585.6L956.5 585.7L958.6 585.8L960.8 585.9L962.9 586.0L965.1 586.1L967.2 586.2L969.4 586.2L971.5 586.3L973.7 586.3L975.8 586.3L978.0 586.3L980.1 586.2L982.3 586.2L984.4 586.1L986.6 586.0L988.7 585.8L990.8 585.7L993.0 585.5" stroke="#008080" stroke-width="5.0" fill="none" stroke-linejoin="round" stroke-linecap="butt"/>
<path d="M135.0 542.6L136.8 542.3L138.6 542.1L140.4 541.9L142.2 541.8L144.0 541.6L145.8 541.4L147.6 541.3L149.4 541.2L151.2 541.0L153.0 540.9L154.8 540.8L156.6 540.7L158.4 540.6L160.2 540.5L162.0 540.5L163.8 540.4L165.6 540.3L167.4 540.3L169.2 540.2L171.0 540.2L172.8 540.1L174.6 540.1L176.4 540.1L178.2 540.1L180.0 540.0L181.8 540.0L183.6 540.0L185.4 540.0L187.2 540.0L189.0 540.0L190.8 540.0L192.6 540.0L194.4 540.0L196.2 540.0L198.0 540.0L199.8 540.0L201.6 540.0L203.4 540.0L205.2 540.0L207.0 540.0L208.8 540.0L210.6 540.0L212.4 540.0L214.2 539.9L216.0 539.9L217.8 539.9L219.6 539.9L221.4 539.8L223.2 539.8L225.0 539.8L226.8 539.7L228.6 539.7L230.3 539.6L232.1 539.6L233.9 539.5L235.7 539.4L237.5 539.3L239.3 539.2L241.1 539.1L242.9 539.0L244.6 538.9L246.4 538.8L248.2 538.6L250.0 538.5L251.8 538.3L253.5 538.2L255.3 538.0L257.1 537.8L258.9 537.6L260.7 537.4L262.4 537.2L264.2 536.9L266.0 536.7L267.8 536.4L269.5 536.1L271.3 535.8L273.1 535.5L274.8 535.2L276.6 534.8L278.4 534.5L280.1 534.1L281.9 533.7L283.7 533.3L285.4 532.9L287.2 532.4L288.9 532.0L290.7 531.5L292.4 531.0L294.2 530.5L295.9 530.0L297.7 529.4L299.4 528.9L301.1 528.3L302.9 527.7L304.6 527.1L306.3 526.5L308.0 525.8L309.7 525.2L311.4 524.5L313.1 523.9L314.8 523.2L316.5 522.4L318.2 521.7L319.9 521.0L321.5 520.2L323.2 519.5L324.8 518.7L326.5 517.9L328.1 517.0L329.7 516.2L331.4 515.4L333.0 514.5L334.6 513.6L336.2 512.8L337.7 511.8L339.3 510.9L340.9 510.0L342.4 509.1L344.0 508.1L345.5 507.1L347.0 506.1L348.5 505.1L350.0 504.1L351.5 503.1L353.0 502.0L354.4 501.0L355.9 499.9L357.3 498.8L358.7 497.7L360.2 496.6L361.5 495.5L362.9 494.4L364.3 493.2L365.6 492.1L367.0 490.9L368.3 489.7L369.6 488.5L370.9 487.3L372.2 486.0L373.4 484.8L374.7 483.6L375.9 482.3L377.1 481.0L378.3 479.7L379.5 478.4L380.7 477.1L381.8 475.8L383.0 474.4L384.1 473.1L385.2 471.7L386.3 470.4L387.4 469.0L388.5 467.6L389.5 466.2L390.6 464.8L391.6 463.4L392.6 461.9L393.6 460.5L394.6 459.0L395.6 457.6L396.5 456.1L397.5 454.6L398.4 453.1L399.4 451.6L400.3 450.1L401.2 448.6L402.1 447.1L403.0 445.6L403.9 444.0L404.7 442.5L405.6 440.9L406.5 439.4L407.3 437.8L408.1 436.2L408.9 434.7L409.8 433.1L410.6 431.5L411.3 429.9L412.1 428.3L412.9 426.6L413.7 425.0L414.4 423.4L415.2 421.8L415.9 420.1L416.7 418.5L417.4 416.8L418.1 415.2L418.8 413.5L419.6 411.9L420.3 410.2L421.0 408.5L421.6 406.8L422.3 405.2L423.0 403.5L423.7 401.8L424.4 400.1L425.0 398.4L425.7 396.7L426.3 395.0L427.0 393.3L427.6 391.6L428.3 389.9L428.9 388.2L429.6 386.5L430.2 384.7L430.8 383.0L431.4 381.3L432.1 379.6L432.7 377.9L433.3 376.1L433.9 374.4L434.5 372.7L435.1 371.0L435.7 369.2L436.4 367.5L437.0 365.8L437.6 364.0L438.2 362.3L438.8 360.6L439.4 358.9L440.0 357.1L440.6 355.4L441.2 353.7L441.8 352.0L442.4 350.2L443.0 348.5L443.6 346.8L444.2 345.1L444.8 343.4L445.4 341.6L446.0 339.9L446.7 338.2L447.3 336.5L447.9 334.8L448.5 333.1L449.1 331.4L449.8 329.7L450.4 328.0L451.0 326.3L451.6 324.6L452.3 322.9L452.9 321.3L453.6 319.6L454.2 317.9L454.9 316.3L455.5 314.6L456.2 312.9L456.9 311.3L457.5 309.6L458.2 308.0L458.9 306.3L459.5 304.7L460.2 303.0L460.9 301.4L461.6 299.8L462.3 298.1L462.9 296.5L463.6 294.9L464.3 293.2L465.0 291.6L465.7 290.0L466.4 288.3L467.0 286.7L467.7 285.1L468.4 283.4L469.1 281.8L469.8 280.1L470.4 278.5L471.1 276.9L471.8 275.2L472.5 273.6L473.1 271.9L473.8 270.3L474.5 268.6L475.1 267.0L475.8 265.3L476.4 263.7L477.1 262.0L477.7 260.3L478.4 258.6L479.0 257.0L479.6 255.3L480.2 253.6L480.9 251.9L481.5 250.2L482.1 248.5L482.7 246.8L483.3 245.1L483.9 243.3L484.4 241.6L485.0 239.9L485.6 238.1L486.2 236.4L486.8 234.7L487.4 233.0L488.1 231.2L488.8 229.5L489.5 227.8L490.2 226.2L491.0 224.5L491.8 222.9L492.7 221.2L493.6 219.7L494.6 218.1L495.6 216.6L496.7 215.1L497.9 213.7L499.2 212.4L500.5 211.2L502.0 210.1L503.5 209.1L505.1 208.3L506.7 207.5L508.4 207.0L510.1 206.5L511.8 206.2L513.5 206.1L515.2 206.2L516.9 206.4L518.5 206.8L520.2 207.4L521.7 208.2L523.3 209.1L524.7 210.1L526.2 211.2L527.6 212.5L528.9 213.8L530.2 215.2L531.4 216.7L532.5 218.2L533.6 219.7L534.7 221.2L535.7 222.8L536.7 224.3L537.6 225.9L538.5 227.5L539.4 229.1L540.3 230.7L541.2 232.3L542.1 233.9L542.9 235.5L543.7 237.1L544.5 238.8L545.3 240.4L546.1 242.0L546.9 243.6L547.6 245.3L548.3 246.9L549.1 248.6L549.8 250.2L550.5 251.9L551.2 253.5L551.9 255.2L552.5 256.8L553.2 258.5L553.9 260.1L554.5 261.8L555.2 263.4L555.8 265.1L556.4 266.8L557.0 268.5L557.7 270.1L558.3 271.8L558.9 273.5L559.5 275.1L560.1 276.8L560.7 278.5L561.3 280.2L561.9 281.9L562.5 283.5L563.1 285.2L563.7 286.9L564.3 288.6L564.8 290.3L565.4 292.0L566.0 293.6L566.6 295.3L567.2 297.0L567.8 298.7L568.4 300.4L569.0 302.1L569.5 303.8L570.1 305.5L570.7 307.2L571.3 308.8L571.9 310.5L572.5 312.2L573.1 313.9L573.6 315.6L574.2 317.3L574.8 319.0L575.4 320.7L576.0 322.4L576.6 324.1L577.1 325.8L577.7 327.5L578.3 329.2L578.9 330.9L579.5 332.6L580.1 334.3L580.7 336.0L581.3 337.6L581.8 339.3L582.4 341.0L583.0 342.7L583.6 344.4L584.2 346.1L584.8 347.8L585.4 349.5L586.0 351.2L586.6 352.9L587.2 354.6L587.8 356.3L588.4 358.0L589.0 359.7L589.6 361.4L590.2 363.1L590.8 364.8L591.4 366.5L592.0 368.2L592.6 369.9L593.3 371.6L593.9 373.3L594.5 375.0L595.1 376.7L595.7 378.4L596.4 380.1L597.0 381.8L597.6 383.5L598.2 385.2L598.9 386.9L599.5 388.6L600.1 390.3L600.8 392.0L601.4 393.7L602.1 395.4L602.7 397.0L603.4 398.7L604.0 400.4L604.7 402.1L605.3 403.8L606.0 405.5L606.7 407.2L607.4 408.9L608.0 410.5L608.7 412.2L609.4 413.9L610.1 415.6L610.8 417.2L611.5 418.9L612.2 420.6L612.9 422.2L613.6 423.9L614.3 425.6L615.1 427.2L615.8 428.9L616.5 430.5L617.3 432.2L618.0 433.8L618.8 435.4L619.6 437.1L620.3 438.7L621.1 440.3L621.9 441.9L622.7 443.6L623.5 445.2L624.3 446.8L625.1 448.4L625.9 450.0L626.8 451.6L627.6 453.2L628.4 454.7L629.3 456.3L630.2 457.9L631.0 459.5L631.9 461.0L632.8 462.6L633.7 464.1L634.6 465.7L635.5 467.2L636.5 468.7L637.4 470.2L638.3 471.8L639.3 473.3L640.3 474.8L641.2 476.3L642.2 477.8L643.2 479.2L644.2 480.7L645.2 482.2L646.3 483.6L647.3 485.1L648.4 486.5L649.4 488.0L650.5 489.4L651.6 490.8L652.7 492.2L653.8 493.6L654.9 495.0L656.1 496.4L657.2 497.8L658.4 499.1L659.5 500.5L660.7 501.8L661.9 503.2L663.1 504.5L664.4 505.8L665.6 507.1L666.8 508.4L668.1 509.7L669.3 511.0L670.6 512.3L671.9 513.6L673.2 514.9L674.5 516.1L675.7 517.4L677.0 518.7L678.3 519.9L679.6 521.2L680.9 522.5L682.2 523.7L683.5 525.0L684.8 526.2L686.1 527.5L687.4 528.7L688.7 530.0L690.0 531.2L691.3 532.4L692.6 533.6L693.9 534.8L695.3 536.0L696.6 537.1L698.0 538.1L699.5 539.2L700.9 540.1L702.4 541.0L703.9 541.9L705.5 542.7L707.1 543.5L708.7 544.2L710.3 544.9L711.9 545.5L713.6 546.1L715.3 546.7L717.0 547.2L718.8 547.7L720.5 548.2L722.3 548.7L724.0 549.1L725.8 549.5L727.6 549.9L729.3 550.3L731.1 550.7L732.9 551.1L734.7 551.4L736.5 551.8L738.3 552.1L740.1 552.4L741.8 552.8L743.6 553.1L745.4 553.4L747.2 553.7L749.0 554.0L750.8 554.3L752.6 554.6L754.3 554.8L756.1 555.1L757.9 555.4L759.7 555.6L761.5 555.9L763.3 556.1L765.1 556.4L766.8 556.6L768.6 556.8L770.4 557.1L772.2 557.3L774.0 557.5L775.8 557.7L777.6 557.9L779.3 558.1L781.1 558.3L782.9 558.5L784.7 558.7L786.5 558.9L788.3 559.1L790.1 559.2L791.9 559.4L793.6 559.6L795.4 559.7L797.2 559.9L799.0 560.0L800.8 560.2L802.6 560.4L804.4 560.5L806.2 560.7L807.9 560.8L809.7 560.9L811.5 561.1L813.3 561.2L815.1 561.4L816.9 561.5L818.7 561.6L820.5 561.8L822.3 561.9L824.1 562.0L825.9 562.1L827.6 562.3L829.4 562.4L831.2 562.5L833.0 562.6L834.8 562.8L836.6 562.9L838.4 563.0L840.2 563.1L842.0 563.3L843.8 563.4L845.6 563.5L847.4 563.6L849.2 563.7L851.0 563.8L852.8 564.0L854.6 564.1L856.4 564.2L858.2 564.3L860.0 564.4L861.7 564.5L863.5 564.6L865.3 564.7L867.1 564.8L868.9 564.9L870.7 565.0L872.5 565.1L874.3 565.2L876.1 565.3L877.9 565.4L879.7 565.5L881.5 565.6L883.3 565.7L885.1 565.8L886.9 565.9L888.7 565.9L890.5 566.0L892.3 566.1L894.1 566.2L895.9 566.3L897.7 566.3L899.5 566.4L901.3 566.5L903.1 566.5L904.9 566.6L906.7 566.7L908.5 566.7L910.3 566.8L912.1 566.9L913.9 566.9L915.7 567.0L917.5 567.0L919.3 567.1L921.1 567.1L922.9 567.1L924.7 567.2L926.5 567.2L928.3 567.3L930.1 567.3L931.9 567.3L933.7 567.3L935.5 567.4L937.3 567.4L939.1 567.4L940.9 567.4L942.7 567.4L944.5 567.4L946.3 567.5L948.1 567.5L949.9 567.5L951.7 567.5L953.5 567.4L955.3 567.4L957.1 567.4L958.9 567.4L960.7 567.4L962.5 567.4L964.3 567.4L966.1 567.3L967.9 567.3L969.7 567.3L971.4 567.2L973.2 567.2L975.0 567.1L976.8 567.1L978.6 567.0L980.4 567.0L982.2 566.9L984.0 566.9L985.8 566.8L987.6 566.7L989.4 566.6L991.2 566.6L993.0 566.5" stroke="#ff00ff" stroke-width="5.0" fill="none" stroke-linejoin="round" stroke-linecap="butt"/>
<path d="M135.0 549.8L136.8 549.6L138.6 549.3L140.3 549.1L142.1 548.9L143.9 548.7L145.7 548.5L147.5 548.3L149.2 548.1L151.0 547.9L152.8 547.7L154.6 547.6L156.4 547.4L158.2 547.3L159.9 547.2L161.7 547.1L163.5 546.9L165.3 546.8L167.1 546.7L168.9 546.7L170.7 546.6L172.4 546.5L174.2 546.4L176.0 546.3L177.8 546.3L179.6 546.2L181.4 546.2L183.2 546.1L184.9 546.1L186.7 546.0L188.5 546.0L190.3 545.9L192.1 545.9L193.9 545.9L195.7 545.8L197.5 545.8L199.2 545.8L201.0 545.7L202.8 545.7L204.6 545.7L206.4 545.6L208.2 545.6L210.0 545.6L211.7 545.6L213.5 545.5L215.3 545.5L217.1 545.5L218.9 545.4L220.7 545.4L222.5 545.3L224.2 545.3L226.0 545.2L227.8 545.2L229.6 545.1L231.4 545.1L233.1 545.0L234.9 544.9L236.7 544.9L238.5 544.8L240.3 544.7L242.0 544.6L243.8 544.5L245.6 544.4L247.4 544.3L249.1 544.1L250.9 544.0L252.7 543.9L254.5 543.7L256.2 543.6L258.0 543.4L259.8 543.2L261.6 543.0L263.3 542.8L265.1 542.6L266.9 542.4L268.6 542.2L270.4 542.0L272.2 541.7L273.9 541.4L275.7 541.2L277.4 540.9L279.2 540.6L281.0 540.3L282.7 539.9L284.5 539.6L286.2 539.3L288.0 538.9L289.7 538.5L291.5 538.1L293.2 537.7L295.0 537.3L296.7 536.9L298.5 536.4L300.2 536.0L301.9 535.5L303.7 535.0L305.4 534.5L307.1 534.0L308.8 533.4L310.5 532.9L312.3 532.3L314.0 531.8L315.7 531.2L317.3 530.6L319.0 530.0L320.7 529.3L322.4 528.7L324.1 528.1L325.7 527.4L327.4 526.7L329.0 526.0L330.7 525.3L332.3 524.6L334.0 523.8L335.6 523.1L337.2 522.3L338.8 521.5L340.4 520.7L342.0 519.9L343.6 519.1L345.2 518.2L346.7 517.4L348.3 516.5L349.8 515.6L351.4 514.7L352.9 513.8L354.4 512.9L355.9 511.9L357.4 511.0L358.9 510.0L360.4 509.0L361.9 508.0L363.3 507.0L364.8 506.0L366.2 504.9L367.6 503.8L369.0 502.8L370.4 501.7L371.8 500.6L373.2 499.4L374.6 498.3L375.9 497.1L377.3 496.0L378.6 494.8L379.9 493.6L381.2 492.4L382.5 491.2L383.8 489.9L385.0 488.7L386.3 487.4L387.5 486.1L388.8 484.8L390.0 483.5L391.2 482.2L392.4 480.9L393.6 479.5L394.7 478.2L395.9 476.8L397.0 475.5L398.1 474.1L399.3 472.7L400.4 471.3L401.5 469.9L402.5 468.4L403.6 467.0L404.7 465.5L405.7 464.1L406.7 462.6L407.7 461.2L408.7 459.7L409.7 458.2L410.7 456.7L411.7 455.2L412.6 453.7L413.6 452.1L414.5 450.6L415.4 449.1L416.3 447.5L417.2 446.0L418.1 444.4L419.0 442.9L419.8 441.3L420.7 439.7L421.5 438.1L422.3 436.5L423.1 434.9L423.9 433.3L424.7 431.7L425.4 430.1L426.2 428.5L427.0 426.9L427.7 425.3L428.4 423.6L429.1 422.0L429.8 420.4L430.5 418.7L431.2 417.1L431.9 415.4L432.6 413.8L433.3 412.1L433.9 410.5L434.6 408.8L435.2 407.1L435.8 405.5L436.5 403.8L437.1 402.1L437.7 400.4L438.3 398.8L438.9 397.1L439.5 395.4L440.1 393.7L440.7 392.0L441.3 390.3L441.9 388.6L442.4 386.9L443.0 385.2L443.6 383.5L444.2 381.8L444.7 380.1L445.3 378.4L445.8 376.7L446.4 375.0L446.9 373.3L447.5 371.6L448.1 369.9L448.6 368.2L449.2 366.5L449.7 364.8L450.3 363.1L450.8 361.4L451.4 359.7L451.9 358.0L452.5 356.3L453.0 354.6L453.6 352.9L454.1 351.2L454.7 349.5L455.2 347.8L455.8 346.1L456.4 344.4L456.9 342.7L457.5 341.0L458.1 339.3L458.7 337.7L459.3 336.0L459.8 334.3L460.4 332.6L461.0 330.9L461.6 329.3L462.2 327.6L462.9 325.9L463.5 324.3L464.1 322.6L464.7 320.9L465.3 319.3L466.0 317.6L466.6 316.0L467.2 314.3L467.9 312.6L468.5 311.0L469.1 309.3L469.8 307.7L470.4 306.0L471.0 304.4L471.7 302.7L472.3 301.0L472.9 299.4L473.6 297.7L474.2 296.1L474.9 294.4L475.5 292.7L476.1 291.1L476.8 289.4L477.4 287.8L478.0 286.1L478.6 284.4L479.3 282.7L479.9 281.1L480.5 279.4L481.1 277.7L481.7 276.0L482.3 274.4L482.9 272.7L483.5 271.0L484.1 269.3L484.7 267.6L485.3 265.9L485.9 264.2L486.4 262.5L487.0 260.8L487.6 259.1L488.1 257.4L488.7 255.6L489.2 253.9L489.7 252.2L490.3 250.5L490.8 248.7L491.4 247.0L491.9 245.3L492.5 243.6L493.2 241.9L493.8 240.2L494.5 238.6L495.3 236.9L496.0 235.3L496.9 233.8L497.8 232.2L498.7 230.7L499.8 229.2L500.9 227.8L502.1 226.4L503.3 225.0L504.7 223.7L506.1 222.5L507.5 221.3L509.1 220.3L510.6 219.4L512.2 218.6L513.8 217.9L515.5 217.5L517.1 217.2L518.8 217.1L520.4 217.2L522.1 217.5L523.7 218.0L525.3 218.7L526.8 219.5L528.3 220.5L529.8 221.6L531.1 222.9L532.4 224.2L533.6 225.6L534.8 227.1L535.9 228.7L537.0 230.2L538.0 231.9L539.0 233.5L540.0 235.1L541.0 236.7L541.9 238.3L542.9 239.9L543.8 241.4L544.7 243.0L545.6 244.5L546.5 246.0L547.4 247.6L548.3 249.1L549.1 250.6L550.0 252.1L550.8 253.6L551.6 255.1L552.4 256.6L553.2 258.1L554.0 259.7L554.8 261.2L555.5 262.7L556.3 264.3L557.0 265.9L557.7 267.5L558.4 269.1L559.0 270.7L559.7 272.3L560.4 273.9L561.0 275.6L561.7 277.2L562.3 278.9L562.9 280.6L563.5 282.2L564.2 283.9L564.8 285.6L565.4 287.2L566.0 288.9L566.6 290.6L567.2 292.3L567.8 293.9L568.4 295.6L569.0 297.3L569.5 299.0L570.1 300.7L570.7 302.4L571.3 304.1L571.8 305.8L572.4 307.4L573.0 309.1L573.5 310.8L574.1 312.5L574.7 314.2L575.2 315.9L575.8 317.6L576.3 319.3L576.9 321.1L577.4 322.8L578.0 324.5L578.5 326.2L579.1 327.9L579.7 329.6L580.2 331.3L580.8 333.0L581.3 334.7L581.9 336.4L582.4 338.1L583.0 339.8L583.5 341.5L584.1 343.2L584.6 344.9L585.2 346.6L585.7 348.3L586.3 350.0L586.9 351.7L587.4 353.4L588.0 355.1L588.6 356.8L589.1 358.5L589.7 360.2L590.3 361.9L590.9 363.6L591.4 365.3L592.0 367.0L592.6 368.7L593.2 370.4L593.8 372.0L594.4 373.7L595.0 375.4L595.6 377.1L596.2 378.8L596.9 380.4L597.5 382.1L598.1 383.8L598.7 385.4L599.4 387.1L600.0 388.7L600.7 390.4L601.3 392.0L602.0 393.7L602.6 395.3L603.3 397.0L604.0 398.6L604.7 400.3L605.3 401.9L606.0 403.5L606.7 405.1L607.4 406.8L608.1 408.4L608.8 410.0L609.5 411.7L610.3 413.3L611.0 414.9L611.7 416.5L612.4 418.1L613.2 419.7L613.9 421.4L614.6 423.0L615.4 424.6L616.1 426.2L616.9 427.8L617.7 429.4L618.4 431.0L619.2 432.6L619.9 434.2L620.7 435.9L621.5 437.5L622.3 439.1L623.1 440.7L623.8 442.3L624.6 443.9L625.4 445.5L626.2 447.1L627.0 448.7L627.8 450.3L628.6 452.0L629.4 453.6L630.2 455.2L631.1 456.8L631.9 458.4L632.7 460.0L633.5 461.7L634.3 463.3L635.2 464.9L636.0 466.5L636.8 468.1L637.7 469.8L638.5 471.4L639.3 473.0L640.2 474.6L641.1 476.2L641.9 477.8L642.8 479.4L643.7 481.0L644.6 482.6L645.5 484.2L646.4 485.8L647.3 487.3L648.3 488.9L649.2 490.4L650.2 491.9L651.2 493.4L652.2 494.9L653.2 496.4L654.2 497.9L655.3 499.3L656.3 500.7L657.4 502.2L658.5 503.6L659.6 504.9L660.8 506.3L661.9 507.6L663.1 508.9L664.3 510.2L665.5 511.5L666.8 512.7L668.0 514.0L669.3 515.2L670.6 516.4L671.9 517.6L673.2 518.7L674.6 519.8L675.9 521.0L677.3 522.1L678.7 523.1L680.1 524.2L681.5 525.2L683.0 526.3L684.4 527.3L685.9 528.3L687.3 529.2L688.8 530.2L690.3 531.2L691.8 532.1L693.4 533.0L694.9 533.9L696.4 534.8L698.0 535.6L699.6 536.5L701.1 537.3L702.7 538.1L704.3 538.9L705.9 539.7L707.5 540.5L709.2 541.2L710.8 542.0L712.4 542.7L714.1 543.4L715.7 544.1L717.4 544.8L719.1 545.5L720.7 546.2L722.4 546.8L724.1 547.4L725.8 548.1L727.4 548.7L729.1 549.3L730.8 549.9L732.5 550.5L734.2 551.0L735.9 551.6L737.6 552.1L739.3 552.7L741.1 553.2L742.8 553.7L744.5 554.2L746.2 554.7L747.9 555.2L749.6 555.7L751.4 556.1L753.1 556.6L754.8 557.0L756.6 557.5L758.3 557.9L760.0 558.3L761.8 558.7L763.5 559.1L765.3 559.5L767.0 559.9L768.7 560.2L770.5 560.6L772.2 561.0L774.0 561.3L775.7 561.6L777.5 562.0L779.3 562.3L781.0 562.6L782.8 562.9L784.5 563.2L786.3 563.5L788.1 563.8L789.8 564.1L791.6 564.3L793.4 564.6L795.1 564.9L796.9 565.1L798.7 565.4L800.4 565.6L802.2 565.8L804.0 566.1L805.7 566.3L807.5 566.5L809.3 566.7L811.1 566.9L812.8 567.1L814.6 567.3L816.4 567.5L818.2 567.7L820.0 567.9L821.7 568.1L823.5 568.2L825.3 568.4L827.1 568.6L828.8 568.7L830.6 568.9L832.4 569.0L834.2 569.2L836.0 569.3L837.7 569.5L839.5 569.6L841.3 569.8L843.1 569.9L844.9 570.0L846.6 570.1L848.4 570.3L850.2 570.4L852.0 570.5L853.8 570.6L855.6 570.7L857.3 570.8L859.1 570.9L860.9 571.0L862.7 571.1L864.5 571.2L866.2 571.3L868.0 571.4L869.8 571.5L871.6 571.5L873.4 571.6L875.2 571.7L876.9 571.8L878.7 571.8L880.5 571.9L882.3 572.0L884.1 572.0L885.9 572.1L887.6 572.1L889.4 572.2L891.2 572.2L893.0 572.3L894.8 572.3L896.6 572.4L898.3 572.4L900.1 572.5L901.9 572.5L903.7 572.5L905.5 572.6L907.3 572.6L909.1 572.6L910.8 572.7L912.6 572.7L914.4 572.7L916.2 572.8L918.0 572.8L919.8 572.8L921.6 572.8L923.3 572.8L925.1 572.8L926.9 572.9L928.7 572.9L930.5 572.9L932.3 572.9L934.1 572.9L935.8 572.9L937.6 572.9L939.4 572.9L941.2 572.9L943.0 572.9L944.8 572.9L946.6 572.9L948.3 572.9L950.1 572.9L951.9 572.9L953.7 572.9L955.5 572.9L957.3 572.9L959.1 572.9L960.8 572.9L962.6 572.9L964.4 572.9L966.2 572.9L968.0 572.9L969.8 572.9L971.6 572.9L973.4 572.8L975.1 572.8L976.9 572.8L978.7 572.8L980.5 572.8L982.3 572.8L984.1 572.8L985.9 572.8L987.6 572.8L989.4 572.7L991.2 572.7L993.0 572.7" stroke="#808000" stroke-width="5.0" fill="none" stroke-linejoin="round" stroke-linecap="butt"/>
<path d="M135.3 516.0L136.9 515.9L138.5 515.8L140.1 515.8L141.7 515.7L143.3 515.7L145.0 515.6L146.6 515.6L148.2 515.5L149.8 515.5L151.5 515.4L153.1 515.4L154.7 515.3L156.4 515.3L158.0 515.3L159.7 515.2L161.3 515.2L163.0 515.2L164.6 515.2L166.3 515.1L167.9 515.1L169.6 515.1L171.2 515.1L172.9 515.1L174.6 515.1L176.2 515.0L177.9 515.0L179.6 515.0L181.2 515.0L182.9 515.0L184.6 515.0L186.3 514.9L187.9 514.9L189.6 514.9L191.3 514.9L193.0 514.9L194.7 514.9L196.3 514.9L198.0 514.8L199.7 514.8L201.4 514.8L203.1 514.8L204.8 514.8L206.5 514.7L208.2 514.7L209.9 514.7L211.5 514.6L213.2 514.6L214.9 514.6L216.6 514.5L218.3 514.5L220.0 514.5L221.7 514.4L223.4 514.4L225.1 514.3L226.8 514.3L228.5 514.2L230.2 514.1L231.9 514.1L233.6 514.0L235.3 513.9L237.0 513.9L238.7 513.8L240.3 513.7L242.0 513.6L243.7 513.5L245.4 513.4L247.1 513.3L248.8 513.2L250.5 513.1L252.2 513.0L253.9 512.8L255.6 512.7L257.2 512.6L258.9 512.4L260.6 512.3L262.3 512.1L264.0 512.0L265.6 511.8L267.3 511.6L269.0 511.5L270.7 511.3L272.3 511.1L274.0 510.9L275.7 510.7L277.3 510.5L279.0 510.2L280.7 510.0L282.3 509.8L284.0 509.5L285.7 509.3L287.3 509.0L289.0 508.8L290.6 508.5L292.3 508.2L293.9 507.9L295.6 507.6L297.2 507.3L298.8 507.0L300.5 506.6L302.1 506.3L303.7 506.0L305.4 505.6L307.0 505.2L308.6 504.9L310.2 504.5L311.8 504.1L313.4 503.7L315.1 503.2L316.7 502.8L318.3 502.4L319.9 501.9L321.4 501.5L323.0 501.0L324.6 500.5L326.2 500.0L327.8 499.5L329.4 499.0L330.9 498.5L332.5 497.9L334.1 497.4L335.6 496.8L337.2 496.2L338.7 495.7L340.3 495.1L341.8 494.4L343.4 493.8L344.9 493.2L346.4 492.5L348.0 491.9L349.5 491.2L351.0 490.5L352.5 489.8L354.0 489.1L355.5 488.3L357.0 487.6L358.5 486.9L360.0 486.1L361.4 485.3L362.9 484.5L364.4 483.7L365.8 482.9L367.3 482.1L368.7 481.2L370.1 480.4L371.5 479.5L373.0 478.6L374.4 477.7L375.8 476.8L377.1 475.9L378.5 475.0L379.9 474.0L381.2 473.0L382.6 472.1L383.9 471.1L385.3 470.1L386.6 469.1L387.9 468.1L389.2 467.0L390.5 466.0L391.8 464.9L393.0 463.9L394.3 462.8L395.5 461.7L396.8 460.6L398.0 459.5L399.2 458.3L400.4 457.2L401.6 456.0L402.7 454.8L403.9 453.7L405.0 452.5L406.2 451.3L407.3 450.0L408.4 448.8L409.5 447.6L410.5 446.3L411.6 445.0L412.7 443.7L413.7 442.4L414.7 441.1L415.7 439.8L416.7 438.5L417.7 437.1L418.6 435.8L419.6 434.4L420.5 433.0L421.4 431.7L422.3 430.3L423.2 428.9L424.1 427.4L425.0 426.0L425.8 424.6L426.7 423.1L427.5 421.7L428.3 420.2L429.2 418.8L430.0 417.3L430.7 415.8L431.5 414.3L432.3 412.8L433.1 411.3L433.8 409.8L434.6 408.3L435.3 406.7L436.0 405.2L436.8 403.7L437.5 402.1L438.2 400.6L438.9 399.0L439.6 397.5L440.2 395.9L440.9 394.4L441.6 392.8L442.3 391.2L442.9 389.6L443.6 388.1L444.2 386.5L444.9 384.9L445.5 383.3L446.1 381.7L446.8 380.2L447.4 378.6L448.0 377.0L448.6 375.4L449.2 373.8L449.9 372.2L450.5 370.6L451.1 369.0L451.7 367.4L452.3 365.9L452.9 364.3L453.5 362.7L454.1 361.1L454.7 359.5L455.3 357.9L455.9 356.4L456.5 354.8L457.1 353.2L457.7 351.6L458.3 350.1L458.9 348.5L459.5 346.9L460.1 345.4L460.7 343.8L461.3 342.2L461.9 340.7L462.5 339.1L463.1 337.6L463.7 336.0L464.3 334.5L464.9 332.9L465.5 331.4L466.1 329.8L466.7 328.3L467.4 326.7L468.0 325.2L468.6 323.6L469.2 322.1L469.9 320.6L470.5 319.0L471.1 317.5L471.8 316.0L472.4 314.5L473.1 312.9L473.7 311.4L474.4 309.9L475.0 308.4L475.7 306.9L476.4 305.3L477.0 303.8L477.7 302.3L478.4 300.8L479.1 299.3L479.8 297.8L480.5 296.3L481.2 294.8L481.9 293.3L482.6 291.8L483.4 290.4L484.1 288.9L484.8 287.4L485.6 285.9L486.3 284.4L487.1 283.0L487.9 281.5L488.6 280.0L489.4 278.5L490.2 277.1L491.0 275.6L491.8 274.2L492.7 272.7L493.5 271.2L494.3 269.8L495.2 268.3L496.0 266.9L496.9 265.5L497.7 264.0L498.6 262.6L499.5 261.1L500.4 259.7L501.3 258.3L502.2 256.9L503.2 255.4L504.1 254.0L505.1 252.6L506.0 251.2L507.0 249.8L508.0 248.4L509.0 247.0L510.0 245.6L511.0 244.2L512.1 242.8L513.1 241.5L514.2 240.2L515.3 238.9L516.5 237.8L517.7 236.6L518.9 235.6L520.2 234.6L521.5 233.7L522.8 232.9L524.2 232.3L525.7 231.7L527.2 231.3L528.7 231.0L530.3 230.8L532.0 230.7L533.6 230.8L535.3 231.0L536.9 231.4L538.5 231.8L540.1 232.4L541.7 233.1L543.2 233.9L544.7 234.7L546.2 235.7L547.6 236.7L549.0 237.8L550.3 238.9L551.6 240.1L552.8 241.3L554.0 242.5L555.1 243.8L556.2 245.1L557.2 246.4L558.2 247.8L559.2 249.2L560.1 250.5L560.9 252.0L561.8 253.4L562.6 254.8L563.3 256.3L564.1 257.8L564.8 259.2L565.5 260.7L566.2 262.2L566.9 263.8L567.6 265.3L568.2 266.8L568.9 268.3L569.5 269.8L570.2 271.4L570.8 272.9L571.5 274.4L572.1 275.9L572.8 277.5L573.4 279.0L574.1 280.5L574.7 282.1L575.4 283.6L576.1 285.1L576.7 286.6L577.4 288.2L578.1 289.7L578.7 291.2L579.4 292.8L580.1 294.3L580.8 295.8L581.5 297.3L582.1 298.8L582.8 300.4L583.5 301.9L584.2 303.4L584.9 304.9L585.6 306.4L586.3 308.0L587.0 309.5L587.8 311.0L588.5 312.5L589.2 314.0L589.9 315.6L590.6 317.1L591.3 318.6L592.0 320.1L592.7 321.6L593.4 323.1L594.2 324.7L594.9 326.2L595.6 327.7L596.3 329.2L597.0 330.7L597.7 332.3L598.4 333.8L599.1 335.3L599.8 336.8L600.5 338.3L601.2 339.9L601.9 341.4L602.6 342.9L603.3 344.4L604.0 346.0L604.7 347.5L605.3 349.0L606.0 350.6L606.7 352.1L607.4 353.6L608.0 355.2L608.7 356.7L609.3 358.2L610.0 359.8L610.7 361.3L611.3 362.9L612.0 364.4L612.6 365.9L613.3 367.5L613.9 369.0L614.6 370.6L615.2 372.1L615.9 373.6L616.5 375.2L617.2 376.7L617.8 378.2L618.5 379.8L619.1 381.3L619.8 382.9L620.4 384.4L621.1 385.9L621.7 387.5L622.4 389.0L623.1 390.5L623.7 392.0L624.4 393.6L625.0 395.1L625.7 396.6L626.4 398.1L627.1 399.7L627.8 401.2L628.4 402.7L629.1 404.2L629.8 405.7L630.5 407.2L631.2 408.7L631.9 410.2L632.7 411.7L633.4 413.2L634.1 414.7L634.8 416.2L635.6 417.7L636.3 419.2L637.1 420.7L637.8 422.2L638.6 423.6L639.4 425.1L640.2 426.6L641.0 428.1L641.8 429.5L642.6 431.0L643.4 432.4L644.2 433.9L645.0 435.3L645.9 436.8L646.7 438.2L647.6 439.6L648.5 441.1L649.3 442.5L650.2 443.9L651.1 445.3L652.1 446.7L653.0 448.1L653.9 449.5L654.9 450.9L655.8 452.3L656.8 453.7L657.8 455.0L658.8 456.4L659.8 457.8L660.8 459.1L661.8 460.5L662.9 461.8L663.9 463.1L665.0 464.5L666.1 465.8L667.2 467.1L668.3 468.4L669.4 469.7L670.5 471.0L671.6 472.2L672.8 473.5L673.9 474.7L675.1 476.0L676.3 477.2L677.5 478.4L678.6 479.6L679.9 480.8L681.1 482.0L682.3 483.2L683.5 484.4L684.8 485.5L686.0 486.6L687.3 487.8L688.6 488.9L689.9 490.0L691.2 491.0L692.5 492.1L693.8 493.2L695.1 494.2L696.4 495.2L697.8 496.2L699.1 497.2L700.5 498.2L701.9 499.1L703.2 500.0L704.6 501.0L706.0 501.9L707.4 502.7L708.8 503.6L710.2 504.5L711.7 505.3L713.1 506.1L714.5 506.9L716.0 507.7L717.4 508.4L718.9 509.2L720.4 509.9L721.8 510.6L723.3 511.3L724.8 512.0L726.3 512.7L727.8 513.3L729.3 514.0L730.8 514.6L732.3 515.2L733.9 515.8L735.4 516.4L736.9 516.9L738.5 517.5L740.0 518.0L741.6 518.6L743.1 519.1L744.7 519.6L746.3 520.0L747.9 520.5L749.4 521.0L751.0 521.4L752.6 521.9L754.2 522.3L755.8 522.7L757.4 523.1L759.0 523.5L760.6 523.9L762.3 524.2L763.9 524.6L765.5 524.9L767.1 525.3L768.8 525.6L770.4 525.9L772.1 526.2L773.7 526.5L775.4 526.8L777.0 527.1L778.7 527.3L780.3 527.6L782.0 527.9L783.6 528.1L785.3 528.3L787.0 528.6L788.7 528.8L790.3 529.0L792.0 529.2L793.7 529.4L795.4 529.6L797.1 529.7L798.7 529.9L800.4 530.1L802.1 530.2L803.8 530.4L805.5 530.5L807.2 530.7L808.9 530.8L810.6 530.9L812.3 531.1L814.0 531.2L815.7 531.3L817.4 531.4L819.1 531.5L820.8 531.6L822.5 531.7L824.2 531.8L825.9 531.9L827.6 531.9L829.3 532.0L831.0 532.1L832.7 532.2L834.4 532.2L836.1 532.3L837.8 532.4L839.5 532.4L841.2 532.5L842.9 532.5L844.6 532.6L846.3 532.6L848.0 532.7L849.6 532.7L851.3 532.8L853.0 532.8L854.7 532.9L856.4 532.9L858.1 533.0L859.8 533.0L861.4 533.1L863.1 533.1L864.8 533.1L866.5 533.2L868.1 533.2L869.8 533.3L871.5 533.3L873.2 533.4L874.8 533.4L876.5 533.4L878.2 533.5L879.8 533.5L881.5 533.6L883.1 533.6L884.8 533.6L886.4 533.7L888.1 533.7L889.8 533.8L891.4 533.8L893.1 533.8L894.7 533.9L896.4 533.9L898.0 533.9L899.7 534.0L901.3 534.0L903.0 534.0L904.6 534.0L906.3 534.1L907.9 534.1L909.6 534.1L911.2 534.1L912.9 534.1L914.5 534.2L916.2 534.2L917.8 534.2L919.4 534.2L921.1 534.2L922.7 534.2L924.4 534.2L926.0 534.2L927.7 534.2L929.3 534.2L931.0 534.2L932.7 534.2L934.3 534.2L936.0 534.2L937.6 534.2L939.3 534.2L940.9 534.1L942.6 534.1L944.3 534.1L945.9 534.1L947.6 534.0L949.2 534.0L950.9 534.0L952.6 533.9L954.2 533.9L955.9 533.8L957.6 533.8L959.3 533.7L960.9 533.7L962.6 533.6L964.3 533.6L966.0 533.5L967.7 533.4L969.3 533.4L971.0 533.3L972.7 533.2L974.4 533.1L976.1 533.1L977.8 533.0L979.5 532.9L981.2 532.8L982.9 532.7L984.6 532.6L986.4 532.5L988.1 532.4L989.8 532.2L991.5 532.1L993.2 532.0" stroke="#000080" stroke-width="5.0" fill="none" stroke-linejoin="round" stroke-linecap="butt"/>
<path d="M135.0 524.9L136.7 524.6L138.5 524.4L140.2 524.1L142.0 523.9L143.7 523.7L145.4 523.4L147.2 523.2L148.9 523.0L150.6 522.8L152.4 522.6L154.1 522.4L155.8 522.2L157.6 522.0L159.3 521.8L161.1 521.7L162.8 521.5L164.5 521.3L166.3 521.2L168.0 521.0L169.7 520.9L171.5 520.7L173.2 520.6L175.0 520.5L176.7 520.3L178.4 520.2L180.2 520.1L181.9 520.0L183.7 519.9L185.4 519.7L187.1 519.6L188.9 519.5L190.6 519.4L192.3 519.3L194.1 519.2L195.8 519.1L197.6 519.0L199.3 518.9L201.0 518.8L202.8 518.7L204.5 518.6L206.3 518.5L208.0 518.4L209.7 518.3L211.5 518.2L213.2 518.1L215.0 518.0L216.7 517.9L218.4 517.8L220.2 517.7L221.9 517.6L223.7 517.5L225.4 517.4L227.1 517.3L228.9 517.2L230.6 517.1L232.4 517.0L234.1 516.9L235.8 516.8L237.6 516.7L239.3 516.5L241.1 516.4L242.8 516.3L244.5 516.2L246.3 516.0L248.0 515.9L249.8 515.7L251.5 515.6L253.2 515.4L255.0 515.3L256.7 515.1L258.5 515.0L260.2 514.8L261.9 514.6L263.7 514.4L265.4 514.2L267.2 514.0L268.9 513.8L270.6 513.6L272.4 513.4L274.1 513.2L275.9 513.0L277.6 512.7L279.4 512.5L281.1 512.3L282.8 512.0L284.6 511.7L286.3 511.5L288.0 511.2L289.8 510.9L291.5 510.6L293.2 510.3L295.0 509.9L296.7 509.6L298.4 509.3L300.1 508.9L301.9 508.6L303.6 508.2L305.3 507.8L307.0 507.4L308.7 507.0L310.4 506.5L312.1 506.1L313.7 505.6L315.4 505.1L317.1 504.7L318.8 504.1L320.4 503.6L322.1 503.1L323.7 502.5L325.3 502.0L326.9 501.4L328.6 500.8L330.2 500.1L331.8 499.5L333.3 498.8L334.9 498.2L336.5 497.5L338.0 496.7L339.6 496.0L341.1 495.2L342.6 494.4L344.1 493.6L345.6 492.8L347.1 492.0L348.6 491.1L350.1 490.2L351.5 489.3L352.9 488.3L354.3 487.4L355.7 486.4L357.1 485.4L358.5 484.3L359.9 483.3L361.2 482.2L362.5 481.1L363.8 479.9L365.1 478.8L366.4 477.6L367.7 476.3L368.9 475.1L370.1 473.8L371.3 472.6L372.5 471.3L373.7 469.9L374.9 468.6L376.1 467.2L377.2 465.9L378.3 464.5L379.4 463.1L380.6 461.7L381.6 460.2L382.7 458.8L383.8 457.3L384.9 455.9L385.9 454.4L387.0 453.0L388.0 451.5L389.0 450.0L390.0 448.5L391.0 447.1L392.0 445.6L393.0 444.1L394.0 442.6L394.9 441.1L395.9 439.7L396.8 438.2L397.8 436.7L398.7 435.3L399.7 433.8L400.6 432.3L401.5 430.9L402.4 429.4L403.3 428.0L404.2 426.5L405.1 425.0L405.9 423.6L406.8 422.1L407.7 420.6L408.5 419.2L409.3 417.7L410.1 416.2L410.9 414.7L411.7 413.2L412.5 411.7L413.3 410.1L414.1 408.6L414.8 407.1L415.6 405.5L416.3 404.0L417.0 402.4L417.7 400.8L418.4 399.3L419.1 397.7L419.8 396.1L420.5 394.5L421.2 392.9L421.9 391.3L422.5 389.7L423.2 388.1L423.8 386.5L424.5 384.8L425.1 383.2L425.8 381.6L426.4 380.0L427.0 378.3L427.6 376.7L428.3 375.1L428.9 373.4L429.5 371.8L430.1 370.1L430.7 368.5L431.3 366.8L432.0 365.2L432.6 363.5L433.2 361.9L433.8 360.3L434.4 358.6L435.0 357.0L435.6 355.3L436.2 353.7L436.8 352.0L437.5 350.4L438.1 348.8L438.7 347.1L439.3 345.5L440.0 343.9L440.6 342.2L441.2 340.6L441.9 339.0L442.5 337.4L443.2 335.7L443.8 334.1L444.5 332.5L445.1 330.9L445.8 329.3L446.4 327.7L447.1 326.1L447.7 324.5L448.4 322.9L449.1 321.3L449.7 319.7L450.4 318.1L451.1 316.5L451.7 314.9L452.4 313.3L453.1 311.7L453.8 310.1L454.4 308.5L455.1 306.9L455.8 305.3L456.4 303.7L457.1 302.1L457.8 300.5L458.4 298.9L459.1 297.3L459.8 295.7L460.4 294.1L461.1 292.5L461.8 290.9L462.4 289.3L463.1 287.7L463.7 286.1L464.4 284.5L465.0 282.9L465.7 281.2L466.3 279.6L467.0 278.0L467.6 276.4L468.2 274.8L468.9 273.1L469.5 271.5L470.1 269.9L470.7 268.2L471.3 266.6L471.9 264.9L472.5 263.3L473.1 261.6L473.7 260.0L474.3 258.3L474.9 256.6L475.5 255.0L476.1 253.3L476.6 251.6L477.2 249.9L477.8 248.2L478.4 246.6L479.0 244.9L479.6 243.2L480.2 241.6L480.8 239.9L481.5 238.3L482.2 236.7L482.9 235.1L483.7 233.6L484.5 232.0L485.4 230.5L486.3 229.0L487.2 227.6L488.2 226.1L489.2 224.7L490.3 223.4L491.5 222.1L492.7 220.8L494.0 219.6L495.3 218.4L496.7 217.3L498.2 216.3L499.6 215.4L501.2 214.6L502.7 213.9L504.4 213.4L506.0 212.9L507.7 212.6L509.4 212.4L511.2 212.4L512.9 212.6L514.7 212.8L516.4 213.2L518.1 213.8L519.8 214.4L521.4 215.2L523.0 216.1L524.4 217.1L525.8 218.2L527.1 219.3L528.4 220.6L529.5 221.9L530.6 223.2L531.7 224.6L532.8 226.0L533.9 227.4L534.9 228.9L536.0 230.3L537.0 231.7L538.0 233.2L539.0 234.6L540.0 236.1L540.9 237.6L541.9 239.0L542.8 240.5L543.7 242.0L544.6 243.5L545.5 245.0L546.3 246.5L547.1 248.1L548.0 249.6L548.8 251.1L549.6 252.7L550.3 254.2L551.1 255.8L551.8 257.3L552.6 258.9L553.3 260.5L554.0 262.1L554.7 263.6L555.4 265.2L556.1 266.8L556.7 268.4L557.4 270.0L558.1 271.6L558.7 273.2L559.3 274.8L560.0 276.5L560.6 278.1L561.2 279.7L561.8 281.3L562.4 283.0L563.0 284.6L563.7 286.2L564.2 287.9L564.8 289.5L565.4 291.1L566.0 292.8L566.6 294.4L567.2 296.1L567.8 297.7L568.3 299.4L568.9 301.0L569.5 302.7L570.0 304.3L570.6 306.0L571.1 307.6L571.7 309.3L572.3 311.0L572.8 312.6L573.4 314.3L573.9 316.0L574.5 317.6L575.0 319.3L575.6 320.9L576.1 322.6L576.6 324.3L577.2 325.9L577.7 327.6L578.3 329.3L578.8 331.0L579.4 332.6L579.9 334.3L580.5 336.0L581.0 337.6L581.5 339.3L582.1 341.0L582.6 342.6L583.2 344.3L583.7 345.9L584.3 347.6L584.8 349.3L585.4 350.9L586.0 352.6L586.5 354.2L587.1 355.9L587.6 357.6L588.2 359.2L588.8 360.9L589.3 362.5L589.9 364.2L590.5 365.8L591.1 367.5L591.7 369.1L592.3 370.7L592.9 372.4L593.5 374.0L594.1 375.6L594.7 377.3L595.3 378.9L595.9 380.5L596.5 382.2L597.1 383.8L597.8 385.4L598.4 387.0L599.0 388.6L599.7 390.2L600.3 391.8L601.0 393.4L601.7 395.0L602.3 396.6L603.0 398.2L603.7 399.8L604.4 401.4L605.1 403.0L605.7 404.5L606.4 406.1L607.2 407.7L607.9 409.3L608.6 410.8L609.3 412.4L610.0 414.0L610.8 415.6L611.5 417.1L612.3 418.7L613.0 420.2L613.8 421.8L614.5 423.4L615.3 424.9L616.1 426.5L616.8 428.0L617.6 429.6L618.4 431.1L619.2 432.7L620.0 434.3L620.8 435.8L621.6 437.4L622.4 438.9L623.2 440.5L624.0 442.0L624.9 443.6L625.7 445.1L626.5 446.7L627.4 448.2L628.2 449.8L629.1 451.3L629.9 452.9L630.8 454.4L631.7 456.0L632.5 457.6L633.4 459.1L634.3 460.7L635.2 462.2L636.1 463.8L637.0 465.3L637.9 466.9L638.8 468.4L639.7 470.0L640.7 471.5L641.6 473.0L642.6 474.5L643.5 476.0L644.5 477.5L645.5 479.0L646.5 480.5L647.5 481.9L648.6 483.4L649.6 484.8L650.7 486.2L651.7 487.6L652.8 489.0L653.9 490.3L655.1 491.7L656.2 493.0L657.4 494.2L658.6 495.5L659.8 496.7L661.0 498.0L662.2 499.1L663.5 500.3L664.8 501.4L666.1 502.5L667.4 503.6L668.7 504.7L670.1 505.7L671.5 506.7L672.9 507.7L674.3 508.7L675.7 509.6L677.1 510.5L678.6 511.4L680.1 512.3L681.5 513.2L683.0 514.0L684.5 514.8L686.1 515.6L687.6 516.4L689.2 517.1L690.7 517.9L692.3 518.6L693.9 519.3L695.5 519.9L697.1 520.6L698.7 521.3L700.3 521.9L701.9 522.5L703.6 523.1L705.2 523.7L706.9 524.2L708.5 524.8L710.2 525.3L711.9 525.9L713.6 526.4L715.3 526.9L716.9 527.3L718.6 527.8L720.3 528.3L722.0 528.7L723.8 529.2L725.5 529.6L727.2 530.0L728.9 530.4L730.6 530.8L732.3 531.2L734.0 531.5L735.8 531.9L737.5 532.3L739.2 532.6L740.9 532.9L742.6 533.3L744.3 533.6L746.1 533.9L747.8 534.2L749.5 534.5L751.2 534.8L753.0 535.1L754.7 535.4L756.4 535.6L758.1 535.9L759.9 536.2L761.6 536.4L763.3 536.6L765.0 536.9L766.8 537.1L768.5 537.3L770.2 537.5L772.0 537.8L773.7 538.0L775.4 538.2L777.1 538.4L778.9 538.5L780.6 538.7L782.3 538.9L784.1 539.1L785.8 539.3L787.5 539.4L789.3 539.6L791.0 539.7L792.7 539.9L794.5 540.1L796.2 540.2L797.9 540.3L799.7 540.5L801.4 540.6L803.1 540.8L804.9 540.9L806.6 541.0L808.4 541.1L810.1 541.3L811.8 541.4L813.6 541.5L815.3 541.6L817.0 541.8L818.8 541.9L820.5 542.0L822.3 542.1L824.0 542.2L825.7 542.3L827.5 542.4L829.2 542.5L831.0 542.7L832.7 542.8L834.4 542.9L836.2 543.0L837.9 543.1L839.7 543.2L841.4 543.3L843.1 543.4L844.9 543.5L846.6 543.6L848.4 543.7L850.1 543.8L851.8 543.9L853.6 544.0L855.3 544.1L857.1 544.2L858.8 544.4L860.5 544.5L862.3 544.6L864.0 544.7L865.8 544.8L867.5 544.9L869.3 545.0L871.0 545.1L872.7 545.2L874.5 545.3L876.2 545.4L878.0 545.5L879.7 545.6L881.5 545.6L883.2 545.7L884.9 545.8L886.7 545.9L888.4 546.0L890.2 546.1L891.9 546.2L893.7 546.3L895.4 546.4L897.2 546.5L898.9 546.6L900.6 546.7L902.4 546.8L904.1 546.9L905.9 547.0L907.6 547.1L909.4 547.1L911.1 547.2L912.8 547.3L914.6 547.4L916.3 547.5L918.1 547.6L919.8 547.7L921.6 547.8L923.3 547.9L925.1 547.9L926.8 548.0L928.5 548.1L930.3 548.2L932.0 548.3L933.8 548.4L935.5 548.5L937.3 548.6L939.0 548.6L940.7 548.7L942.5 548.8L944.2 548.9L946.0 549.0L947.7 549.1L949.5 549.1L951.2 549.2L952.9 549.3L954.7 549.4L956.4 549.5L958.2 549.5L959.9 549.6L961.7 549.7L963.4 549.8L965.1 549.9L966.9 549.9L968.6 550.0L970.4 550.1L972.1 550.2L973.8 550.3L975.6 550.3L977.3 550.4L979.1 550.5L980.8 550.6L982.6 550.6L984.3 550.7L986.0 550.8L987.8 550.9L989.5 550.9L991.3 551.0L993.0 551.1" stroke="#800000" stroke-width="5.0" fill="none" stroke-linejoin="round" stroke-linecap="butt"/></g>
<text x="135" y="630.3" text-anchor="end" class="tk">0</text>
<text x="135" y="574.9" text-anchor="end" class="tk">1000</text>
<text x="135" y="519.5" text-anchor="end" class="tk">2000</text>
<text x="135" y="464.1" text-anchor="end" class="tk">3000</text>
<text x="135" y="408.7" text-anchor="end" class="tk">4000</text>
<text x="135" y="353.3" text-anchor="end" class="tk">5000</text>
<text x="135" y="297.9" text-anchor="end" class="tk">6000</text>
<text x="135" y="242.5" text-anchor="end" class="tk">7000</text>
<text x="135" y="187.1" text-anchor="end" class="tk">8000</text>
<text x="135" y="131.7" text-anchor="end" class="tk">9000</text>
<text x="135" y="76.3" text-anchor="end" class="tk">10000</text>
<text x="135" y="20.9" text-anchor="end" class="tk">11000</text>
<text x="149.0" y="655.5" text-anchor="middle" class="tk">560</text>
<text x="356.0" y="655.5" text-anchor="middle" class="tk">565</text>
<text x="563.0" y="655.5" text-anchor="middle" class="tk">570</text>
<text x="770.0" y="655.5" text-anchor="middle" class="tk">575</text>
<text x="977.0" y="655.5" text-anchor="middle" class="tk">580</text>
<text class="ttl" transform="translate(22.5,319.8) rotate(-90)" text-anchor="middle">Intensity (arb. units)</text>
<text class="ttl" x="441" y="710.4" style="font-size:29.6px">Raman shift (cm<tspan dx="2" dy="-13" font-size="18">-1</tspan><tspan dx="1" dy="13">)</tspan></text>
<text class="lab" x="306.0" y="47.2" fill="#ff0000">568.44 cm<tspan class="sup" dx="1.5" dy="-10">-1</tspan></text>
<line x1="413.0" y1="44.6" x2="491.7" y2="59.5" stroke="#ff0000" stroke-width="2.8"/><polygon points="502.5,61.5 488.8,64.2 490.7,54.0" fill="#ff0000"/>
<text class="lab" x="304.5" y="117.5" fill="#1b718e">568.73 cm<tspan class="sup" dx="1.5" dy="-10">-1</tspan></text>
<line x1="415.5" y1="115.0" x2="497.4" y2="161.1" stroke="#1f7088" stroke-width="2.4"/><polygon points="507.0,166.5 493.1,164.7 498.2,155.6" fill="#1f7088"/>
<text class="lab" x="302.0" y="173.7" fill="#8b1c1c">568.74 cm<tspan class="sup" dx="1.5" dy="-10">-1</tspan></text>
<line x1="403.2" y1="174.9" x2="504.5" y2="208.1" stroke="#861c1c" stroke-width="2.5"/><polygon points="515.0,211.5 501.0,212.4 504.3,202.5" fill="#861c1c"/>
<text class="lab" x="298.5" y="241.7" fill="#5a7d22">568.97 cm<tspan class="sup" dx="1.5" dy="-10">-1</tspan></text>
<line x1="401.0" y1="238.7" x2="498.7" y2="221.0" stroke="#5e821f" stroke-width="2.5"/><polygon points="509.5,219.0 497.6,226.4 495.8,216.2" fill="#5e821f"/>
<text class="lab" x="591.5" y="116.2" fill="#0000f0">568.67 cm<tspan class="sup" dx="1.5" dy="-10">-1</tspan></text>
<line x1="586.3" y1="113.5" x2="518.9" y2="190.5" stroke="#0000ff" stroke-width="2.7"/><polygon points="511.7,198.8 516.3,185.6 524.2,192.4" fill="#0000ff"/>
<text class="lab" x="591.5" y="160.2" fill="#ff00ff">568.80 cm<tspan class="sup" dx="1.5" dy="-10">-1</tspan></text>
<line x1="586.3" y1="159.6" x2="522.8" y2="199.5" stroke="#ff00ff" stroke-width="2.7"/><polygon points="513.5,205.3 521.7,194.0 527.3,202.8" fill="#ff00ff"/>
<text class="lab" x="595.0" y="214.4" fill="#0b0bc0">569.21 cm<tspan class="sup" dx="1.5" dy="-10">-1</tspan></text>
<line x1="592.4" y1="214.2" x2="543.1" y2="227.5" stroke="#000080" stroke-width="2.7"/><polygon points="534.4,229.8 543.8,222.5 546.2,231.4" fill="#000080"/>
<defs><clipPath id="rp"><rect x="565" y="210" width="16" height="18"/></clipPath></defs><path clip-path="url(#rp)" d="M135.6 427.3L137.3 427.0L139.0 426.6L140.7 426.3L142.5 426.0L144.2 425.7L146.0 425.4L147.7 425.1L149.5 424.9L151.3 424.6L153.0 424.4L154.8 424.1L156.6 423.9L158.4 423.7L160.2 423.5L162.0 423.3L163.9 423.1L165.7 422.9L167.5 422.8L169.4 422.6L171.2 422.4L173.1 422.3L174.9 422.1L176.8 422.0L178.6 421.9L180.5 421.7L182.4 421.6L184.2 421.5L186.1 421.4L188.0 421.3L189.9 421.1L191.8 421.0L193.6 420.9L195.5 420.8L197.4 420.7L199.3 420.6L201.2 420.5L203.1 420.4L205.0 420.3L206.9 420.2L208.8 420.1L210.7 420.0L212.6 419.9L214.5 419.7L216.4 419.6L218.3 419.5L220.2 419.4L222.1 419.3L224.0 419.1L225.9 419.0L227.8 418.8L229.7 418.7L231.6 418.5L233.5 418.4L235.4 418.2L237.3 418.0L239.2 417.8L241.1 417.6L242.9 417.4L244.8 417.2L246.7 417.0L248.6 416.8L250.4 416.5L252.3 416.3L254.1 416.0L256.0 415.7L257.8 415.5L259.7 415.2L261.5 414.8L263.4 414.5L265.2 414.2L267.0 413.8L268.8 413.5L270.6 413.1L272.4 412.7L274.2 412.3L276.0 411.8L277.8 411.4L279.6 410.9L281.3 410.4L283.1 409.9L284.8 409.4L286.6 408.9L288.3 408.3L290.0 407.8L291.8 407.2L293.5 406.5L295.2 405.9L296.9 405.3L298.5 404.6L300.2 403.9L301.9 403.2L303.5 402.4L305.1 401.6L306.8 400.9L308.4 400.0L310.0 399.2L311.6 398.3L313.2 397.5L314.7 396.6L316.3 395.6L317.9 394.7L319.4 393.7L320.9 392.8L322.4 391.8L324.0 390.7L325.5 389.7L326.9 388.6L328.4 387.5L329.9 386.4L331.3 385.3L332.8 384.2L334.2 383.0L335.6 381.9L337.0 380.7L338.4 379.5L339.8 378.3L341.2 377.0L342.6 375.8L343.9 374.5L345.3 373.2L346.6 371.9L347.9 370.6L349.2 369.3L350.5 367.9L351.8 366.6L353.1 365.2L354.4 363.8L355.6 362.4L356.9 361.0L358.1 359.6L359.3 358.2L360.5 356.7L361.7 355.3L362.9 353.8L364.1 352.3L365.3 350.8L366.4 349.3L367.6 347.8L368.7 346.3L369.8 344.8L370.9 343.2L372.0 341.7L373.1 340.1L374.2 338.6L375.3 337.0L376.3 335.4L377.4 333.8L378.4 332.2L379.4 330.6L380.4 329.0L381.4 327.4L382.4 325.8L383.4 324.1L384.3 322.5L385.3 320.9L386.2 319.2L387.2 317.6L388.1 315.9L389.0 314.3L389.9 312.6L390.8 311.0L391.6 309.3L392.5 307.6L393.3 306.0L394.2 304.3L395.0 302.6L395.8 300.9L396.6 299.3L397.4 297.6L398.2 295.9L399.0 294.2L399.8 292.5L400.5 290.8L401.3 289.1L402.0 287.4L402.7 285.7L403.4 284.0L404.2 282.3L404.9 280.6L405.6 278.9L406.2 277.2L406.9 275.5L407.6 273.8L408.3 272.0L408.9 270.3L409.6 268.6L410.2 266.9L410.9 265.1L411.5 263.4L412.1 261.7L412.8 260.0L413.4 258.2L414.0 256.5L414.6 254.8L415.2 253.0L415.8 251.3L416.4 249.5L417.0 247.8L417.6 246.1L418.2 244.3L418.8 242.6L419.3 240.8L419.9 239.1L420.5 237.3L421.0 235.6L421.6 233.8L422.2 232.1L422.7 230.3L423.3 228.6L423.9 226.8L424.4 225.1L425.0 223.3L425.5 221.5L426.1 219.8L426.6 218.0L427.2 216.3L427.8 214.5L428.3 212.7L428.9 211.0L429.4 209.2L430.0 207.4L430.5 205.7L431.1 203.9L431.7 202.2L432.2 200.4L432.8 198.6L433.4 196.9L433.9 195.1L434.5 193.3L435.1 191.6L435.7 189.8L436.2 188.0L436.8 186.3L437.4 184.5L438.0 182.7L438.6 180.9L439.2 179.2L439.8 177.4L440.4 175.6L441.0 173.9L441.7 172.1L442.3 170.3L442.9 168.6L443.6 166.8L444.2 165.1L444.8 163.3L445.5 161.5L446.2 159.8L446.8 158.0L447.5 156.2L448.2 154.5L448.9 152.7L449.6 151.0L450.3 149.2L451.0 147.4L451.7 145.7L452.4 143.9L453.1 142.2L453.8 140.4L454.5 138.7L455.2 137.0L456.0 135.2L456.7 133.5L457.4 131.8L458.1 130.1L458.8 128.3L459.5 126.6L460.2 124.9L460.9 123.2L461.6 121.5L462.3 119.8L463.0 118.1L463.7 116.5L464.4 114.8L465.1 113.1L465.8 111.5L466.4 109.8L467.1 108.2L467.8 106.5L468.5 104.9L469.1 103.2L469.8 101.6L470.5 99.9L471.2 98.3L472.0 96.6L472.7 94.9L473.5 93.2L474.3 91.5L475.1 89.8L475.9 88.1L476.8 86.3L477.7 84.5L478.6 82.8L479.6 81.0L480.7 79.3L481.7 77.6L482.9 75.9L484.1 74.4L485.3 72.8L486.6 71.4L488.0 70.0L489.4 68.8L490.9 67.7L492.5 66.7L494.1 65.8L495.8 65.1L497.6 64.5L499.3 64.1L501.1 63.9L502.8 63.8L504.5 64.0L506.2 64.3L507.8 64.8L509.4 65.6L510.9 66.4L512.3 67.5L513.8 68.6L515.1 69.9L516.4 71.3L517.7 72.7L519.0 74.2L520.2 75.7L521.4 77.2L522.5 78.8L523.6 80.4L524.7 81.9L525.8 83.5L526.8 85.1L527.8 86.7L528.8 88.3L529.8 90.0L530.7 91.6L531.6 93.3L532.5 94.9L533.3 96.6L534.2 98.2L535.0 99.9L535.8 101.6L536.6 103.3L537.3 105.0L538.1 106.7L538.8 108.4L539.5 110.2L540.2 111.9L540.9 113.6L541.6 115.4L542.2 117.1L542.9 118.8L543.5 120.6L544.2 122.3L544.8 124.1L545.4 125.9L546.0 127.6L546.6 129.4L547.2 131.1L547.8 132.9L548.4 134.7L549.0 136.4L549.5 138.2L550.1 140.0L550.7 141.7L551.3 143.5L551.8 145.3L552.4 147.1L552.9 148.8L553.5 150.6L554.0 152.4L554.6 154.2L555.1 155.9L555.7 157.7L556.2 159.5L556.8 161.3L557.3 163.1L557.8 164.8L558.4 166.6L558.9 168.4L559.4 170.2L559.9 172.0L560.5 173.7L561.0 175.5L561.5 177.3L562.0 179.1L562.6 180.9L563.1 182.7L563.6 184.4L564.1 186.2L564.6 188.0L565.1 189.8L565.6 191.6L566.2 193.4L566.7 195.2L567.2 196.9L567.7 198.7L568.2 200.5L568.7 202.3L569.2 204.1L569.7 205.9L570.3 207.6L570.8 209.4L571.3 211.2L571.8 213.0L572.3 214.8L572.8 216.6L573.4 218.3L573.9 220.1L574.4 221.9L574.9 223.7L575.4 225.5L576.0 227.2L576.5 229.0L577.0 230.8L577.6 232.6L578.1 234.4L578.6 236.1L579.2 237.9L579.7 239.7L580.3 241.5L580.8 243.2L581.4 245.0L581.9 246.8L582.5 248.5L583.0 250.3L583.6 252.1L584.2 253.8L584.7 255.6L585.3 257.4L585.9 259.1L586.4 260.9L587.0 262.7L587.6 264.4L588.2 266.2L588.8 267.9L589.4 269.7L590.0 271.4L590.6 273.2L591.2 275.0L591.9 276.7L592.5 278.5L593.1 280.2L593.8 281.9L594.4 283.7L595.0 285.4L595.7 287.2L596.4 288.9L597.0 290.6L597.7 292.4L598.4 294.1L599.0 295.8L599.7 297.6L600.4 299.3L601.1 301.0L601.8 302.7L602.5 304.5L603.3 306.2L604.0 307.9L604.7 309.6L605.5 311.3L606.2 313.0L607.0 314.8L607.7 316.5L608.5 318.2L609.3 319.9L610.1 321.6L610.9 323.3L611.7 325.0L612.5 326.6L613.3 328.3L614.1 330.0L615.0 331.7L615.8 333.4L616.6 335.0L617.5 336.7L618.4 338.4L619.3 340.0L620.1 341.7L621.0 343.3L621.9 345.0L622.9 346.6L623.8 348.2L624.7 349.8L625.6 351.5L626.6 353.1L627.6 354.7L628.5 356.3L629.5 357.9L630.5 359.5L631.5 361.0L632.5 362.6L633.5 364.2L634.5 365.7L635.6 367.3L636.6 368.8L637.7 370.3L638.8 371.9L639.8 373.4L640.9 374.9L642.0 376.4L643.1 377.9L644.3 379.3L645.4 380.8L646.6 382.3L647.7 383.7L648.9 385.2L650.1 386.6L651.2 388.0L652.4 389.4L653.7 390.8L654.9 392.2L656.1 393.6L657.4 394.9L658.6 396.3L659.9 397.6L661.2 398.9L662.5 400.2L663.8 401.5L665.1 402.8L666.5 404.1L667.8 405.4L669.2 406.6L670.5 407.9L671.9 409.1L673.3 410.3L674.7 411.5L676.1 412.7L677.6 413.8L679.0 415.0L680.5 416.1L682.0 417.2L683.5 418.4L685.0 419.5L686.5 420.5L688.0 421.6L689.5 422.6L691.1 423.7L692.7 424.7L694.2 425.6L695.8 426.6L697.4 427.6L699.0 428.5L700.7 429.4L702.3 430.3L703.9 431.1L705.6 432.0L707.3 432.8L708.9 433.6L710.6 434.4L712.3 435.1L714.0 435.9L715.8 436.6L717.5 437.2L719.2 437.9L721.0 438.5L722.7 439.1L724.5 439.7L726.3 440.2L728.0 440.8L729.8 441.3L731.6 441.8L733.4 442.2L735.2 442.7L737.1 443.1L738.9 443.5L740.7 443.9L742.5 444.3L744.4 444.6L746.2 445.0L748.0 445.3L749.9 445.6L751.7 445.9L753.6 446.2L755.4 446.5L757.3 446.8L759.2 447.1L761.0 447.3L762.9 447.6L764.7 447.8L766.6 448.1L768.4 448.3L770.3 448.6L772.1 448.8L774.0 449.0L775.8 449.3L777.7 449.5L779.5 449.7L781.4 449.9L783.2 450.2L785.1 450.4L786.9 450.6L788.8 450.8L790.6 451.0L792.5 451.2L794.3 451.3L796.2 451.5L798.0 451.7L799.9 451.9L801.7 452.1L803.6 452.2L805.4 452.4L807.3 452.6L809.1 452.7L811.0 452.9L812.8 453.0L814.7 453.2L816.5 453.3L818.4 453.5L820.2 453.6L822.1 453.7L823.9 453.9L825.8 454.0L827.6 454.1L829.5 454.3L831.3 454.4L833.2 454.5L835.0 454.6L836.9 454.7L838.7 454.8L840.6 454.9L842.4 455.0L844.3 455.1L846.1 455.2L848.0 455.3L849.8 455.4L851.7 455.5L853.5 455.6L855.4 455.7L857.2 455.8L859.1 455.8L860.9 455.9L862.8 456.0L864.7 456.1L866.5 456.1L868.4 456.2L870.2 456.3L872.1 456.3L873.9 456.4L875.8 456.5L877.6 456.5L879.5 456.6L881.3 456.6L883.2 456.7L885.1 456.7L886.9 456.8L888.8 456.8L890.6 456.9L892.5 456.9L894.4 456.9L896.2 457.0L898.1 457.0L899.9 457.1L901.8 457.1L903.7 457.1L905.5 457.2L907.4 457.2L909.3 457.2L911.1 457.2L913.0 457.3L914.9 457.3L916.7 457.3L918.6 457.3L920.4 457.4L922.3 457.4L924.2 457.4L926.0 457.4L927.9 457.4L929.8 457.4L931.6 457.5L933.5 457.5L935.4 457.5L937.2 457.5L939.1 457.5L941.0 457.5L942.8 457.5L944.7 457.5L946.5 457.5L948.4 457.5L950.3 457.5L952.1 457.5L954.0 457.5L955.9 457.5L957.7 457.5L959.6 457.5L961.4 457.5L963.3 457.5L965.2 457.5L967.0 457.5L968.9 457.5L970.7 457.5L972.6 457.5L974.5 457.5L976.3 457.5L978.2 457.5L980.0 457.5L981.9 457.5L983.7 457.5L985.6 457.5L987.4 457.4L989.3 457.4L991.1 457.4L993.0 457.4" stroke="#ff0000" stroke-width="5.0" fill="none"/>
<text class="lab" x="450.5" y="492.0" fill="#000000">567.36 cm<tspan class="sup" dx="1.5" dy="-10">-1</tspan></text>
<line x1="450.8" y1="501" x2="450.8" y2="572" stroke="#000" stroke-width="1.7" stroke-dasharray="11,6"/>
<rect x="736.3" y="24.8" width="230" height="200.4" fill="#fff" stroke="#4a4a4a" stroke-width="1.3"/>
<line x1="740.3" y1="39.4" x2="780" y2="39.4" stroke="#000000" stroke-width="4.7" stroke-linecap="round"/>
<text class="leg" x="785" y="45.2">Stress-free GaN</text>
<line x1="740.3" y1="64.3" x2="780" y2="64.3" stroke="#ff0000" stroke-width="4.7" stroke-linecap="round"/>
<text class="leg" x="785" y="70.1">Without SL</text>
<line x1="740.3" y1="89.2" x2="780" y2="89.2" stroke="#0000ff" stroke-width="4.7" stroke-linecap="round"/>
<text class="leg" x="785" y="95.0">2 SL periods</text>
<line x1="740.3" y1="114.2" x2="780" y2="114.2" stroke="#008080" stroke-width="4.7" stroke-linecap="round"/>
<text class="leg" x="785" y="120.0">4 SL periods</text>
<line x1="740.3" y1="139.1" x2="780" y2="139.1" stroke="#ff00ff" stroke-width="4.7" stroke-linecap="round"/>
<text class="leg" x="785" y="144.9">6 SL periods</text>
<line x1="740.3" y1="164.0" x2="780" y2="164.0" stroke="#808000" stroke-width="4.7" stroke-linecap="round"/>
<text class="leg" x="785" y="169.8">8 SL periods</text>
<line x1="740.3" y1="188.9" x2="780" y2="188.9" stroke="#000080" stroke-width="4.7" stroke-linecap="round"/>
<text class="leg" x="785" y="194.7">10 SL periods</text>
<line x1="740.3" y1="213.8" x2="780" y2="213.8" stroke="#800000" stroke-width="4.7" stroke-linecap="round"/>
<text class="legs" x="785" y="220.3">Low-temperature GaN</text>
</svg>
</body></html>
